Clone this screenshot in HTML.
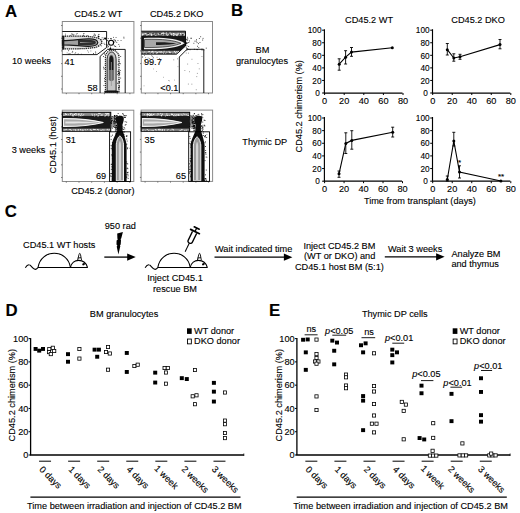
<!DOCTYPE html>
<html><head><meta charset="utf-8"><style>
html,body{margin:0;padding:0;background:#fff;}
svg{display:block;}
text{font-family:"Liberation Sans",sans-serif;fill:#000;stroke:#000;stroke-width:0.12px;}
</style></head><body>
<svg width="520" height="513" viewBox="0 0 520 513">
<rect width="520" height="513" fill="#fff"/>
<text x="5" y="16.5" font-size="16.8" text-anchor="start" font-weight="bold" >A</text>
<text x="231" y="16.3" font-size="16.8" text-anchor="start" font-weight="bold" >B</text>
<text x="4.8" y="217.3" font-size="16.8" text-anchor="start" font-weight="bold" >C</text>
<text x="5.5" y="316.4" font-size="16.8" text-anchor="start" font-weight="bold" >D</text>
<text x="269" y="316.4" font-size="16.8" text-anchor="start" font-weight="bold" >E</text>
<text x="98.3" y="16.5" font-size="9.2" text-anchor="middle" font-weight="normal" >CD45.2 WT</text>
<text x="176.7" y="16.5" font-size="9.2" text-anchor="middle" font-weight="normal" >CD45.2 DKO</text>
<text x="12" y="64" font-size="9.2" text-anchor="start" font-weight="normal" >10 weeks</text>
<text x="11.7" y="152.6" font-size="9.2" text-anchor="start" font-weight="normal" >3 weeks</text>
<text transform="translate(56,144.8) rotate(-90)" font-size="9.2" text-anchor="middle">CD45.1 (host)</text>
<text x="102.8" y="194" font-size="9.2" text-anchor="middle" font-weight="normal" >CD45.2 (donor)</text>
<rect x="62.3" y="21.5" width="71.60000000000001" height="71.5" fill="none" stroke="#8a8a8a" stroke-width="1"/>
<line x1="61.099999999999994" y1="25.5" x2="62.3" y2="25.5" stroke="#555" stroke-width="0.8" />
<line x1="66.3" y1="93" x2="66.3" y2="94.2" stroke="#555" stroke-width="0.8" />
<line x1="61.099999999999994" y1="38.2" x2="62.3" y2="38.2" stroke="#555" stroke-width="0.8" />
<line x1="79.02" y1="93" x2="79.02" y2="94.2" stroke="#555" stroke-width="0.8" />
<line x1="61.099999999999994" y1="50.9" x2="62.3" y2="50.9" stroke="#555" stroke-width="0.8" />
<line x1="91.74000000000001" y1="93" x2="91.74000000000001" y2="94.2" stroke="#555" stroke-width="0.8" />
<line x1="61.099999999999994" y1="63.6" x2="62.3" y2="63.6" stroke="#555" stroke-width="0.8" />
<line x1="104.46000000000001" y1="93" x2="104.46000000000001" y2="94.2" stroke="#555" stroke-width="0.8" />
<line x1="61.099999999999994" y1="76.3" x2="62.3" y2="76.3" stroke="#555" stroke-width="0.8" />
<line x1="117.18" y1="93" x2="117.18" y2="94.2" stroke="#555" stroke-width="0.8" />
<line x1="61.099999999999994" y1="89.0" x2="62.3" y2="89.0" stroke="#555" stroke-width="0.8" />
<line x1="129.9" y1="93" x2="129.9" y2="94.2" stroke="#555" stroke-width="0.8" />
<rect x="107.8" y="38.1" width="0.9" height="0.9" fill="#000" opacity="0.7"/>
<rect x="115.6" y="37.0" width="0.9" height="0.9" fill="#000" opacity="0.7"/>
<rect x="112.9" y="41.1" width="0.9" height="0.9" fill="#000" opacity="0.7"/>
<rect x="101.4" y="43.1" width="0.9" height="0.9" fill="#000" opacity="0.7"/>
<rect x="100.9" y="42.1" width="0.9" height="0.9" fill="#000" opacity="0.7"/>
<rect x="101.7" y="37.3" width="0.9" height="0.9" fill="#000" opacity="0.7"/>
<rect x="110.2" y="47.6" width="0.9" height="0.9" fill="#000" opacity="0.7"/>
<rect x="103.0" y="39.1" width="0.9" height="0.9" fill="#000" opacity="0.7"/>
<rect x="115.1" y="49.3" width="0.9" height="0.9" fill="#000" opacity="0.7"/>
<rect x="113.9" y="41.6" width="0.9" height="0.9" fill="#000" opacity="0.7"/>
<rect x="123.4" y="36.7" width="0.9" height="0.9" fill="#000" opacity="0.7"/>
<rect x="120.6" y="40.1" width="0.9" height="0.9" fill="#000" opacity="0.7"/>
<rect x="103.5" y="37.6" width="0.9" height="0.9" fill="#000" opacity="0.7"/>
<rect x="107.4" y="47.4" width="0.9" height="0.9" fill="#000" opacity="0.7"/>
<rect x="104.3" y="44.1" width="0.9" height="0.9" fill="#000" opacity="0.7"/>
<rect x="115.3" y="41.2" width="0.9" height="0.9" fill="#000" opacity="0.7"/>
<rect x="113.1" y="36.9" width="0.9" height="0.9" fill="#000" opacity="0.7"/>
<rect x="101.4" y="38.9" width="0.9" height="0.9" fill="#000" opacity="0.7"/>
<rect x="116.3" y="42.0" width="0.9" height="0.9" fill="#000" opacity="0.7"/>
<rect x="107.5" y="44.2" width="0.9" height="0.9" fill="#000" opacity="0.7"/>
<rect x="110.9" y="40.2" width="0.9" height="0.9" fill="#000" opacity="0.7"/>
<rect x="119.1" y="45.8" width="0.9" height="0.9" fill="#000" opacity="0.7"/>
<rect x="105.9" y="44.0" width="0.9" height="0.9" fill="#000" opacity="0.7"/>
<rect x="112.6" y="48.3" width="0.9" height="0.9" fill="#000" opacity="0.7"/>
<rect x="117.5" y="40.0" width="0.9" height="0.9" fill="#000" opacity="0.7"/>
<rect x="123.5" y="37.7" width="0.9" height="0.9" fill="#000" opacity="0.7"/>
<rect x="110.0" y="46.6" width="0.9" height="0.9" fill="#000" opacity="0.7"/>
<rect x="103.6" y="42.8" width="0.9" height="0.9" fill="#000" opacity="0.7"/>
<rect x="100.9" y="45.4" width="0.9" height="0.9" fill="#000" opacity="0.7"/>
<rect x="118.3" y="44.0" width="0.9" height="0.9" fill="#000" opacity="0.7"/>
<rect x="118.8" y="62.5" width="0.9" height="0.9" fill="#000" opacity="0.8"/>
<rect x="115.5" y="73.8" width="0.9" height="0.9" fill="#000" opacity="0.8"/>
<rect x="113.4" y="68.2" width="0.9" height="0.9" fill="#000" opacity="0.8"/>
<rect x="118.1" y="87.8" width="0.9" height="0.9" fill="#000" opacity="0.8"/>
<rect x="111.5" y="76.6" width="0.9" height="0.9" fill="#000" opacity="0.8"/>
<rect x="104.1" y="78.1" width="0.9" height="0.9" fill="#000" opacity="0.8"/>
<rect x="114.6" y="89.7" width="0.9" height="0.9" fill="#000" opacity="0.8"/>
<rect x="117.8" y="61.4" width="0.9" height="0.9" fill="#000" opacity="0.8"/>
<rect x="109.9" y="76.7" width="0.9" height="0.9" fill="#000" opacity="0.8"/>
<rect x="103.4" y="68.5" width="0.9" height="0.9" fill="#000" opacity="0.8"/>
<rect x="106.0" y="54.7" width="0.9" height="0.9" fill="#000" opacity="0.8"/>
<rect x="104.1" y="80.7" width="0.9" height="0.9" fill="#000" opacity="0.8"/>
<rect x="105.3" y="59.9" width="0.9" height="0.9" fill="#000" opacity="0.8"/>
<rect x="110.0" y="84.9" width="0.9" height="0.9" fill="#000" opacity="0.8"/>
<rect x="104.5" y="68.0" width="0.9" height="0.9" fill="#000" opacity="0.8"/>
<rect x="112.9" y="85.3" width="0.9" height="0.9" fill="#000" opacity="0.8"/>
<rect x="117.7" y="84.6" width="0.9" height="0.9" fill="#000" opacity="0.8"/>
<rect x="108.0" y="66.6" width="0.9" height="0.9" fill="#000" opacity="0.8"/>
<rect x="109.5" y="85.4" width="0.9" height="0.9" fill="#000" opacity="0.8"/>
<rect x="120.2" y="56.0" width="0.9" height="0.9" fill="#000" opacity="0.8"/>
<rect x="106.2" y="59.3" width="0.9" height="0.9" fill="#000" opacity="0.8"/>
<rect x="107.2" y="69.4" width="0.9" height="0.9" fill="#000" opacity="0.8"/>
<rect x="113.6" y="60.5" width="0.9" height="0.9" fill="#000" opacity="0.8"/>
<rect x="103.1" y="66.8" width="0.9" height="0.9" fill="#000" opacity="0.8"/>
<rect x="109.6" y="72.7" width="0.9" height="0.9" fill="#000" opacity="0.8"/>
<rect x="120.2" y="77.6" width="0.9" height="0.9" fill="#000" opacity="0.8"/>
<rect x="112.3" y="74.7" width="0.9" height="0.9" fill="#000" opacity="0.8"/>
<rect x="115.2" y="52.2" width="0.9" height="0.9" fill="#000" opacity="0.8"/>
<rect x="119.2" y="81.2" width="0.9" height="0.9" fill="#000" opacity="0.8"/>
<rect x="118.7" y="81.9" width="0.9" height="0.9" fill="#000" opacity="0.8"/>
<rect x="110.1" y="66.0" width="0.9" height="0.9" fill="#000" opacity="0.8"/>
<rect x="104.9" y="75.4" width="0.9" height="0.9" fill="#000" opacity="0.8"/>
<rect x="104.1" y="52.7" width="0.9" height="0.9" fill="#000" opacity="0.8"/>
<rect x="106.8" y="56.5" width="0.9" height="0.9" fill="#000" opacity="0.8"/>
<rect x="109.1" y="52.1" width="0.9" height="0.9" fill="#000" opacity="0.8"/>
<rect x="103.0" y="56.1" width="0.9" height="0.9" fill="#000" opacity="0.8"/>
<rect x="104.8" y="64.5" width="0.9" height="0.9" fill="#000" opacity="0.8"/>
<rect x="103.5" y="85.0" width="0.9" height="0.9" fill="#000" opacity="0.8"/>
<rect x="114.1" y="55.9" width="0.9" height="0.9" fill="#000" opacity="0.8"/>
<rect x="107.5" y="63.9" width="0.9" height="0.9" fill="#000" opacity="0.8"/>
<rect x="109.6" y="54.9" width="0.9" height="0.9" fill="#000" opacity="0.8"/>
<rect x="118.3" y="89.7" width="0.9" height="0.9" fill="#000" opacity="0.8"/>
<rect x="111.4" y="69.4" width="0.9" height="0.9" fill="#000" opacity="0.8"/>
<rect x="104.5" y="54.1" width="0.9" height="0.9" fill="#000" opacity="0.8"/>
<rect x="109.2" y="60.6" width="0.9" height="0.9" fill="#000" opacity="0.8"/>
<path d="M62.5,36.3 C80,35.8 94,36.2 99,38.5 C101.5,39.8 102,41.5 101.8,42.5 C101.5,44 100,45.5 97,46.8 C92,48.6 80,49 62.5,48.8 Z" fill="#dedede" stroke="#2a2a2a" stroke-width="1.3" stroke-dasharray="1.4 0.7"/>
<path d="M62.5,40.7 C72,40.5 80,39.2 88,38.8 C94,38.6 97.6,40.2 97.8,42.5 C97.6,44.8 94,46.4 88,46.3 C80,46 72,44.9 62.5,44.8 Z" fill="#a0a0a0" stroke="#1a1a1a" stroke-width="1.2"/>
<path d="M78,40.1 C84,39.5 91,39.5 94.6,40.8 C96.3,41.5 96.3,43.5 94.6,44.2 C91,45.5 84,45.5 78,44.9 Z" fill="#2e2e2e"/>
<path d="M80,42.1 L94,42.5 L80,42.9 Z" fill="#999"/>
<rect x="93.8" y="33.4" width="0.9" height="0.9" fill="#000" opacity="0.6"/>
<rect x="64.8" y="35.4" width="0.9" height="0.9" fill="#000" opacity="0.6"/>
<rect x="83.0" y="33.4" width="0.9" height="0.9" fill="#000" opacity="0.6"/>
<rect x="83.6" y="33.1" width="0.9" height="0.9" fill="#000" opacity="0.6"/>
<rect x="83.0" y="35.4" width="0.9" height="0.9" fill="#000" opacity="0.6"/>
<rect x="95.1" y="34.7" width="0.9" height="0.9" fill="#000" opacity="0.6"/>
<rect x="73.4" y="33.9" width="0.9" height="0.9" fill="#000" opacity="0.6"/>
<rect x="70.0" y="34.9" width="0.9" height="0.9" fill="#000" opacity="0.6"/>
<rect x="83.2" y="34.9" width="0.9" height="0.9" fill="#000" opacity="0.6"/>
<rect x="75.9" y="33.6" width="0.9" height="0.9" fill="#000" opacity="0.6"/>
<rect x="93.2" y="35.5" width="0.9" height="0.9" fill="#000" opacity="0.6"/>
<rect x="94.7" y="35.0" width="0.9" height="0.9" fill="#000" opacity="0.6"/>
<rect x="93.5" y="34.8" width="0.9" height="0.9" fill="#000" opacity="0.6"/>
<rect x="72.2" y="34.3" width="0.9" height="0.9" fill="#000" opacity="0.6"/>
<rect x="76.8" y="33.1" width="0.9" height="0.9" fill="#000" opacity="0.6"/>
<rect x="65.0" y="33.7" width="0.9" height="0.9" fill="#000" opacity="0.6"/>
<rect x="73.3" y="34.7" width="0.9" height="0.9" fill="#000" opacity="0.6"/>
<rect x="98.4" y="34.1" width="0.9" height="0.9" fill="#000" opacity="0.6"/>
<rect x="97.7" y="35.5" width="0.9" height="0.9" fill="#000" opacity="0.6"/>
<rect x="98.4" y="33.9" width="0.9" height="0.9" fill="#000" opacity="0.6"/>
<rect x="71.9" y="33.6" width="0.9" height="0.9" fill="#000" opacity="0.6"/>
<rect x="71.1" y="33.5" width="0.9" height="0.9" fill="#000" opacity="0.6"/>
<rect x="86.5" y="35.3" width="0.9" height="0.9" fill="#000" opacity="0.6"/>
<rect x="94.3" y="34.2" width="0.9" height="0.9" fill="#000" opacity="0.6"/>
<rect x="87.5" y="35.0" width="0.9" height="0.9" fill="#000" opacity="0.6"/>
<rect x="66.7" y="52.5" width="0.9" height="0.9" fill="#000" opacity="0.5"/>
<rect x="93.1" y="53.0" width="0.9" height="0.9" fill="#000" opacity="0.5"/>
<rect x="88.0" y="51.7" width="0.9" height="0.9" fill="#000" opacity="0.5"/>
<rect x="69.7" y="53.1" width="0.9" height="0.9" fill="#000" opacity="0.5"/>
<rect x="74.6" y="53.1" width="0.9" height="0.9" fill="#000" opacity="0.5"/>
<rect x="95.1" y="51.3" width="0.9" height="0.9" fill="#000" opacity="0.5"/>
<rect x="76.8" y="53.8" width="0.9" height="0.9" fill="#000" opacity="0.5"/>
<rect x="87.2" y="50.3" width="0.9" height="0.9" fill="#000" opacity="0.5"/>
<rect x="68.1" y="50.3" width="0.9" height="0.9" fill="#000" opacity="0.5"/>
<rect x="93.0" y="53.1" width="0.9" height="0.9" fill="#000" opacity="0.5"/>
<rect x="68.7" y="53.2" width="0.9" height="0.9" fill="#000" opacity="0.5"/>
<rect x="95.4" y="52.5" width="0.9" height="0.9" fill="#000" opacity="0.5"/>
<rect x="75.2" y="52.0" width="0.9" height="0.9" fill="#000" opacity="0.5"/>
<rect x="68.2" y="49.7" width="0.9" height="0.9" fill="#000" opacity="0.5"/>
<rect x="95.1" y="52.5" width="0.9" height="0.9" fill="#000" opacity="0.5"/>
<rect x="80.9" y="53.7" width="0.9" height="0.9" fill="#000" opacity="0.5"/>
<rect x="77.9" y="53.4" width="0.9" height="0.9" fill="#000" opacity="0.5"/>
<rect x="90.4" y="50.5" width="0.9" height="0.9" fill="#000" opacity="0.5"/>
<rect x="72.1" y="50.9" width="0.9" height="0.9" fill="#000" opacity="0.5"/>
<rect x="71.7" y="52.2" width="0.9" height="0.9" fill="#000" opacity="0.5"/>
<rect x="72.3" y="51.4" width="0.9" height="0.9" fill="#000" opacity="0.5"/>
<rect x="68.2" y="53.6" width="0.9" height="0.9" fill="#000" opacity="0.5"/>
<rect x="62.3" y="36" width="2" height="13.5" fill="#1a1a1a"/>
<circle cx="98.6" cy="36.6" r="0.9" fill="#000"/>
<circle cx="105.2" cy="38.6" r="1.1" fill="#000"/>
<circle cx="110.4" cy="48.8" r="1" fill="#000"/>
<circle cx="111.1" cy="42.8" r="2.5" fill="#fff" stroke="#000" stroke-width="1.1"/>
<path d="M106.5,40 L108.6,41.2 M113.6,39.6 L116,40.6 M113.8,45.6 L116.2,46.8 M107,45.6 L109,46.6 M110,38.5 L112,38.8" stroke="#000" stroke-width="0.7"/>
<path d="M105.4,92 L105.4,58 C105.4,53 108.5,50.2 112.2,50.2 C115.9,50.2 119,53 119,58 L119,92 Z" fill="#f0f0f0" stroke="#222" stroke-width="1.1" stroke-dasharray="1.3 0.7"/>
<path d="M107.1,91 L107.1,60 C107.1,55 109.3,52 111.6,52 C113.9,52 116.1,55 116.1,60 L116.1,91 Z" fill="#c4c4c4" stroke="#111" stroke-width="0.9"/>
<path d="M108.8,80 L108.8,60 C108.8,56.5 110.1,54.8 111.3,54.8 C112.5,54.8 113.9,56.5 113.9,60 L113.9,80 C112.5,81.5 110.1,81.5 108.8,80 Z" fill="#6a6a6a"/>
<path d="M109.4,70 L109.4,60 C109.4,57.2 110.4,55.8 111.3,55.8 C112.2,55.8 113.3,57.2 113.3,60 L113.3,70 Z" fill="#161616"/>
<path d="M110.9,62 L111.7,62 L111.7,86 L110.9,86 Z" fill="#999"/>
<rect x="118.1" y="70.5" width="0.9" height="0.9" fill="#000" opacity="0.9"/>
<rect x="118.8" y="86.6" width="0.9" height="0.9" fill="#000" opacity="0.9"/>
<rect x="118.3" y="87.0" width="0.9" height="0.9" fill="#000" opacity="0.9"/>
<rect x="118.5" y="73.1" width="0.9" height="0.9" fill="#000" opacity="0.9"/>
<rect x="118.6" y="54.7" width="0.9" height="0.9" fill="#000" opacity="0.9"/>
<rect x="118.3" y="60.6" width="0.9" height="0.9" fill="#000" opacity="0.9"/>
<rect x="117.0" y="82.8" width="0.9" height="0.9" fill="#000" opacity="0.9"/>
<rect x="117.5" y="71.0" width="0.9" height="0.9" fill="#000" opacity="0.9"/>
<rect x="119.2" y="74.0" width="0.9" height="0.9" fill="#000" opacity="0.9"/>
<rect x="118.0" y="72.7" width="0.9" height="0.9" fill="#000" opacity="0.9"/>
<rect x="118.7" y="82.2" width="0.9" height="0.9" fill="#000" opacity="0.9"/>
<rect x="117.3" y="74.2" width="0.9" height="0.9" fill="#000" opacity="0.9"/>
<rect x="117.7" y="64.0" width="0.9" height="0.9" fill="#000" opacity="0.9"/>
<rect x="119.3" y="72.3" width="0.9" height="0.9" fill="#000" opacity="0.9"/>
<rect x="118.7" y="81.4" width="0.9" height="0.9" fill="#000" opacity="0.9"/>
<rect x="119.7" y="70.0" width="0.9" height="0.9" fill="#000" opacity="0.9"/>
<rect x="118.8" y="72.2" width="0.9" height="0.9" fill="#000" opacity="0.9"/>
<rect x="118.5" y="78.9" width="0.9" height="0.9" fill="#000" opacity="0.9"/>
<rect x="118.4" y="73.2" width="0.9" height="0.9" fill="#000" opacity="0.9"/>
<rect x="118.4" y="87.9" width="0.9" height="0.9" fill="#000" opacity="0.9"/>
<rect x="119.1" y="85.6" width="0.9" height="0.9" fill="#000" opacity="0.9"/>
<rect x="119.8" y="63.3" width="0.9" height="0.9" fill="#000" opacity="0.9"/>
<rect x="104.4" y="90.8" width="14" height="2" fill="#111"/>
<path d="M62.3,31.5 L106.6,31.5 L106.6,47.5 L97,54.6 L62.3,54.6" fill="none" stroke="#000" stroke-width="0.9"/>
<path d="M100.1,93 L100.1,56.4 L107.6,49.4 L125.2,49.4 L125.2,93" fill="none" stroke="#000" stroke-width="0.9"/>
<text x="64.4" y="65" font-size="9.2" text-anchor="start" font-weight="normal" >41</text>
<text x="87.5" y="90.8" font-size="9.2" text-anchor="start" font-weight="normal" >58</text>
<rect x="141.3" y="21.5" width="71.19999999999999" height="71.5" fill="none" stroke="#8a8a8a" stroke-width="1"/>
<line x1="140.10000000000002" y1="25.5" x2="141.3" y2="25.5" stroke="#555" stroke-width="0.8" />
<line x1="145.3" y1="93" x2="145.3" y2="94.2" stroke="#555" stroke-width="0.8" />
<line x1="140.10000000000002" y1="38.2" x2="141.3" y2="38.2" stroke="#555" stroke-width="0.8" />
<line x1="157.94" y1="93" x2="157.94" y2="94.2" stroke="#555" stroke-width="0.8" />
<line x1="140.10000000000002" y1="50.9" x2="141.3" y2="50.9" stroke="#555" stroke-width="0.8" />
<line x1="170.58" y1="93" x2="170.58" y2="94.2" stroke="#555" stroke-width="0.8" />
<line x1="140.10000000000002" y1="63.6" x2="141.3" y2="63.6" stroke="#555" stroke-width="0.8" />
<line x1="183.22" y1="93" x2="183.22" y2="94.2" stroke="#555" stroke-width="0.8" />
<line x1="140.10000000000002" y1="76.3" x2="141.3" y2="76.3" stroke="#555" stroke-width="0.8" />
<line x1="195.86" y1="93" x2="195.86" y2="94.2" stroke="#555" stroke-width="0.8" />
<line x1="140.10000000000002" y1="89.0" x2="141.3" y2="89.0" stroke="#555" stroke-width="0.8" />
<line x1="208.5" y1="93" x2="208.5" y2="94.2" stroke="#555" stroke-width="0.8" />
<rect x="196.7" y="49.2" width="0.9" height="0.9" fill="#000" opacity="0.8"/>
<rect x="202.6" y="37.9" width="0.9" height="0.9" fill="#000" opacity="0.8"/>
<rect x="187.6" y="42.2" width="0.9" height="0.9" fill="#000" opacity="0.8"/>
<rect x="186.5" y="39.4" width="0.9" height="0.9" fill="#000" opacity="0.8"/>
<rect x="186.5" y="45.4" width="0.9" height="0.9" fill="#000" opacity="0.8"/>
<rect x="201.5" y="48.6" width="0.9" height="0.9" fill="#000" opacity="0.8"/>
<rect x="188.2" y="46.0" width="0.9" height="0.9" fill="#000" opacity="0.8"/>
<rect x="198.9" y="38.0" width="0.9" height="0.9" fill="#000" opacity="0.8"/>
<rect x="203.5" y="49.5" width="0.9" height="0.9" fill="#000" opacity="0.8"/>
<rect x="189.6" y="49.3" width="0.9" height="0.9" fill="#000" opacity="0.8"/>
<rect x="193.4" y="42.8" width="0.9" height="0.9" fill="#000" opacity="0.8"/>
<rect x="205.8" y="47.7" width="0.9" height="0.9" fill="#000" opacity="0.8"/>
<rect x="188.4" y="42.0" width="0.9" height="0.9" fill="#000" opacity="0.8"/>
<rect x="195.8" y="40.7" width="0.9" height="0.9" fill="#000" opacity="0.8"/>
<rect x="189.1" y="40.5" width="0.9" height="0.9" fill="#000" opacity="0.8"/>
<rect x="200.2" y="36.3" width="0.9" height="0.9" fill="#000" opacity="0.8"/>
<rect x="196.6" y="42.2" width="0.9" height="0.9" fill="#000" opacity="0.8"/>
<rect x="185.4" y="40.6" width="0.9" height="0.9" fill="#000" opacity="0.8"/>
<rect x="198.1" y="43.2" width="0.9" height="0.9" fill="#000" opacity="0.8"/>
<rect x="186.4" y="49.8" width="0.9" height="0.9" fill="#000" opacity="0.8"/>
<rect x="201.6" y="49.6" width="0.9" height="0.9" fill="#000" opacity="0.8"/>
<rect x="187.2" y="39.7" width="0.9" height="0.9" fill="#000" opacity="0.8"/>
<rect x="185.8" y="46.9" width="0.9" height="0.9" fill="#000" opacity="0.8"/>
<rect x="190.7" y="37.8" width="0.9" height="0.9" fill="#000" opacity="0.8"/>
<rect x="193.9" y="48.8" width="0.9" height="0.9" fill="#000" opacity="0.8"/>
<rect x="202.2" y="39.6" width="0.9" height="0.9" fill="#000" opacity="0.8"/>
<rect x="188.1" y="48.9" width="0.9" height="0.9" fill="#000" opacity="0.8"/>
<rect x="197.0" y="45.8" width="0.9" height="0.9" fill="#000" opacity="0.8"/>
<rect x="186.9" y="36.8" width="0.9" height="0.9" fill="#000" opacity="0.8"/>
<rect x="199.5" y="42.0" width="0.9" height="0.9" fill="#000" opacity="0.8"/>
<rect x="186.5" y="49.1" width="0.9" height="0.9" fill="#000" opacity="0.8"/>
<rect x="198.3" y="47.2" width="0.9" height="0.9" fill="#000" opacity="0.8"/>
<rect x="186.8" y="48.0" width="0.9" height="0.9" fill="#000" opacity="0.8"/>
<rect x="186.4" y="48.1" width="0.9" height="0.9" fill="#000" opacity="0.8"/>
<rect x="194.5" y="40.7" width="0.9" height="0.9" fill="#000" opacity="0.8"/>
<rect x="196.6" y="49.0" width="0.9" height="0.9" fill="#000" opacity="0.8"/>
<rect x="190.6" y="37.8" width="0.9" height="0.9" fill="#000" opacity="0.8"/>
<rect x="196.1" y="39.3" width="0.9" height="0.9" fill="#000" opacity="0.8"/>
<rect x="187.3" y="38.3" width="0.9" height="0.9" fill="#000" opacity="0.8"/>
<rect x="186.1" y="38.8" width="0.9" height="0.9" fill="#000" opacity="0.8"/>
<rect x="187.2" y="63.6" width="0.9" height="0.9" fill="#000" opacity="0.45"/>
<rect x="197.5" y="63.0" width="0.9" height="0.9" fill="#000" opacity="0.45"/>
<rect x="191.5" y="58.8" width="0.9" height="0.9" fill="#000" opacity="0.45"/>
<rect x="188.0" y="52.7" width="0.9" height="0.9" fill="#000" opacity="0.45"/>
<rect x="185.8" y="52.6" width="0.9" height="0.9" fill="#000" opacity="0.45"/>
<rect x="196.9" y="72.9" width="0.9" height="0.9" fill="#000" opacity="0.45"/>
<rect x="184.4" y="70.0" width="0.9" height="0.9" fill="#000" opacity="0.45"/>
<rect x="201.5" y="56.0" width="0.9" height="0.9" fill="#000" opacity="0.45"/>
<rect x="198.8" y="68.4" width="0.9" height="0.9" fill="#000" opacity="0.45"/>
<rect x="191.4" y="83.7" width="0.9" height="0.9" fill="#000" opacity="0.45"/>
<rect x="189.0" y="71.3" width="0.9" height="0.9" fill="#000" opacity="0.45"/>
<rect x="195.8" y="89.3" width="0.9" height="0.9" fill="#000" opacity="0.45"/>
<rect x="187.9" y="83.6" width="0.9" height="0.9" fill="#000" opacity="0.45"/>
<rect x="196.3" y="76.2" width="0.9" height="0.9" fill="#000" opacity="0.45"/>
<rect x="156.6" y="56.8" width="0.9" height="0.9" fill="#000" opacity="0.5"/>
<rect x="144.0" y="55.0" width="0.9" height="0.9" fill="#000" opacity="0.5"/>
<rect x="144.5" y="59.9" width="0.9" height="0.9" fill="#000" opacity="0.5"/>
<rect x="151.2" y="55.3" width="0.9" height="0.9" fill="#000" opacity="0.5"/>
<rect x="145.0" y="60.7" width="0.9" height="0.9" fill="#000" opacity="0.5"/>
<rect x="173.3" y="59.4" width="0.9" height="0.9" fill="#000" opacity="0.5"/>
<rect x="152.1" y="55.9" width="0.9" height="0.9" fill="#000" opacity="0.5"/>
<rect x="152.6" y="57.7" width="0.9" height="0.9" fill="#000" opacity="0.5"/>
<rect x="147.7" y="57.6" width="0.9" height="0.9" fill="#000" opacity="0.5"/>
<rect x="151.5" y="61.7" width="0.9" height="0.9" fill="#000" opacity="0.5"/>
<rect x="177.0" y="58.4" width="0.9" height="0.9" fill="#000" opacity="0.5"/>
<rect x="150.8" y="61.7" width="0.9" height="0.9" fill="#000" opacity="0.5"/>
<rect x="153.1" y="56.9" width="0.9" height="0.9" fill="#000" opacity="0.5"/>
<rect x="142.0" y="57.1" width="0.9" height="0.9" fill="#000" opacity="0.5"/>
<rect x="159.1" y="58.0" width="0.9" height="0.9" fill="#000" opacity="0.5"/>
<rect x="149.2" y="58.0" width="0.9" height="0.9" fill="#000" opacity="0.5"/>
<rect x="142.2" y="56.1" width="0.9" height="0.9" fill="#000" opacity="0.5"/>
<rect x="145.2" y="57.2" width="0.9" height="0.9" fill="#000" opacity="0.5"/>
<rect x="143.5" y="62.6" width="0.9" height="0.9" fill="#000" opacity="0.35"/>
<rect x="153.0" y="68.5" width="0.9" height="0.9" fill="#000" opacity="0.35"/>
<rect x="163.1" y="76.8" width="0.9" height="0.9" fill="#000" opacity="0.35"/>
<rect x="169.0" y="80.4" width="0.9" height="0.9" fill="#000" opacity="0.35"/>
<rect x="167.8" y="86.6" width="0.9" height="0.9" fill="#000" opacity="0.35"/>
<rect x="156.0" y="71.1" width="0.9" height="0.9" fill="#000" opacity="0.35"/>
<rect x="177.5" y="66.2" width="0.9" height="0.9" fill="#000" opacity="0.35"/>
<rect x="168.1" y="80.0" width="0.9" height="0.9" fill="#000" opacity="0.35"/>
<rect x="143.6" y="85.4" width="0.9" height="0.9" fill="#000" opacity="0.35"/>
<rect x="174.1" y="79.6" width="0.9" height="0.9" fill="#000" opacity="0.35"/>
<path d="M141.5,31.4 L185.5,31.4 L185.5,46 L176.5,54 L141.5,54 Z" fill="#161616"/>
<rect x="141.5" y="32.5" width="43.5" height="3" fill="#9a9a9a"/>
<path d="M141.5,50.8 L180.2,50.8 L177.5,53.5 L141.5,53.5 Z" fill="#8a8a8a"/>
<rect x="173.2" y="34.8" width="0.9" height="0.9" fill="#fff" opacity="0.9"/>
<rect x="147.9" y="34.0" width="0.9" height="0.9" fill="#fff" opacity="0.9"/>
<rect x="163.4" y="34.8" width="0.9" height="0.9" fill="#fff" opacity="0.9"/>
<rect x="176.2" y="34.8" width="0.9" height="0.9" fill="#fff" opacity="0.9"/>
<rect x="166.8" y="35.0" width="0.9" height="0.9" fill="#fff" opacity="0.9"/>
<rect x="171.0" y="34.4" width="0.9" height="0.9" fill="#fff" opacity="0.9"/>
<rect x="151.8" y="32.6" width="0.9" height="0.9" fill="#fff" opacity="0.9"/>
<rect x="147.7" y="33.5" width="0.9" height="0.9" fill="#fff" opacity="0.9"/>
<rect x="146.5" y="34.8" width="0.9" height="0.9" fill="#fff" opacity="0.9"/>
<rect x="165.7" y="34.3" width="0.9" height="0.9" fill="#fff" opacity="0.9"/>
<rect x="168.6" y="34.4" width="0.9" height="0.9" fill="#fff" opacity="0.9"/>
<rect x="162.8" y="32.5" width="0.9" height="0.9" fill="#fff" opacity="0.9"/>
<rect x="175.9" y="34.6" width="0.9" height="0.9" fill="#fff" opacity="0.9"/>
<rect x="163.4" y="34.0" width="0.9" height="0.9" fill="#fff" opacity="0.9"/>
<rect x="170.0" y="32.7" width="0.9" height="0.9" fill="#fff" opacity="0.9"/>
<rect x="173.3" y="33.2" width="0.9" height="0.9" fill="#fff" opacity="0.9"/>
<rect x="145.2" y="33.2" width="0.9" height="0.9" fill="#fff" opacity="0.9"/>
<rect x="173.0" y="33.1" width="0.9" height="0.9" fill="#fff" opacity="0.9"/>
<rect x="173.4" y="35.2" width="0.9" height="0.9" fill="#fff" opacity="0.9"/>
<rect x="163.0" y="33.6" width="0.9" height="0.9" fill="#fff" opacity="0.9"/>
<rect x="162.4" y="34.4" width="0.9" height="0.9" fill="#fff" opacity="0.9"/>
<rect x="174.6" y="34.2" width="0.9" height="0.9" fill="#fff" opacity="0.9"/>
<rect x="169.3" y="32.7" width="0.9" height="0.9" fill="#fff" opacity="0.9"/>
<rect x="148.3" y="33.2" width="0.9" height="0.9" fill="#fff" opacity="0.9"/>
<rect x="173.6" y="33.4" width="0.9" height="0.9" fill="#fff" opacity="0.9"/>
<rect x="166.1" y="32.5" width="0.9" height="0.9" fill="#fff" opacity="0.9"/>
<rect x="144.6" y="33.3" width="0.9" height="0.9" fill="#fff" opacity="0.9"/>
<rect x="170.6" y="34.4" width="0.9" height="0.9" fill="#fff" opacity="0.9"/>
<rect x="170.7" y="33.3" width="0.9" height="0.9" fill="#fff" opacity="0.9"/>
<rect x="164.0" y="33.8" width="0.9" height="0.9" fill="#fff" opacity="0.9"/>
<rect x="161.8" y="32.8" width="0.9" height="0.9" fill="#fff" opacity="0.9"/>
<rect x="180.0" y="33.1" width="0.9" height="0.9" fill="#fff" opacity="0.9"/>
<rect x="183.6" y="35.1" width="0.9" height="0.9" fill="#fff" opacity="0.9"/>
<rect x="142.7" y="33.8" width="0.9" height="0.9" fill="#fff" opacity="0.9"/>
<rect x="176.8" y="35.2" width="0.9" height="0.9" fill="#fff" opacity="0.9"/>
<rect x="161.1" y="33.3" width="0.9" height="0.9" fill="#fff" opacity="0.9"/>
<rect x="150.9" y="35.1" width="0.9" height="0.9" fill="#fff" opacity="0.9"/>
<rect x="151.0" y="34.1" width="0.9" height="0.9" fill="#fff" opacity="0.9"/>
<rect x="148.0" y="34.0" width="0.9" height="0.9" fill="#fff" opacity="0.9"/>
<rect x="182.5" y="32.9" width="0.9" height="0.9" fill="#fff" opacity="0.9"/>
<rect x="176.9" y="33.9" width="0.9" height="0.9" fill="#fff" opacity="0.9"/>
<rect x="179.7" y="34.5" width="0.9" height="0.9" fill="#fff" opacity="0.9"/>
<rect x="151.8" y="35.0" width="0.9" height="0.9" fill="#fff" opacity="0.9"/>
<rect x="162.7" y="32.6" width="0.9" height="0.9" fill="#fff" opacity="0.9"/>
<rect x="142.2" y="33.9" width="0.9" height="0.9" fill="#fff" opacity="0.9"/>
<rect x="161.2" y="33.3" width="0.9" height="0.9" fill="#fff" opacity="0.9"/>
<rect x="148.0" y="33.5" width="0.9" height="0.9" fill="#fff" opacity="0.9"/>
<rect x="155.4" y="34.9" width="0.9" height="0.9" fill="#fff" opacity="0.9"/>
<rect x="142.1" y="34.6" width="0.9" height="0.9" fill="#fff" opacity="0.9"/>
<rect x="177.7" y="32.8" width="0.9" height="0.9" fill="#fff" opacity="0.9"/>
<rect x="181.4" y="34.5" width="0.9" height="0.9" fill="#fff" opacity="0.9"/>
<rect x="180.3" y="33.3" width="0.9" height="0.9" fill="#fff" opacity="0.9"/>
<rect x="157.8" y="33.6" width="0.9" height="0.9" fill="#fff" opacity="0.9"/>
<rect x="184.4" y="34.1" width="0.9" height="0.9" fill="#fff" opacity="0.9"/>
<rect x="157.3" y="33.7" width="0.9" height="0.9" fill="#fff" opacity="0.9"/>
<rect x="152.2" y="50.9" width="0.9" height="0.9" fill="#fff" opacity="0.9"/>
<rect x="145.8" y="52.9" width="0.9" height="0.9" fill="#fff" opacity="0.9"/>
<rect x="152.6" y="53.1" width="0.9" height="0.9" fill="#fff" opacity="0.9"/>
<rect x="151.2" y="51.5" width="0.9" height="0.9" fill="#fff" opacity="0.9"/>
<rect x="160.9" y="51.3" width="0.9" height="0.9" fill="#fff" opacity="0.9"/>
<rect x="155.8" y="53.2" width="0.9" height="0.9" fill="#fff" opacity="0.9"/>
<rect x="174.7" y="52.8" width="0.9" height="0.9" fill="#fff" opacity="0.9"/>
<rect x="165.3" y="53.1" width="0.9" height="0.9" fill="#fff" opacity="0.9"/>
<rect x="176.8" y="52.2" width="0.9" height="0.9" fill="#fff" opacity="0.9"/>
<rect x="168.6" y="50.9" width="0.9" height="0.9" fill="#fff" opacity="0.9"/>
<rect x="169.1" y="51.9" width="0.9" height="0.9" fill="#fff" opacity="0.9"/>
<rect x="169.8" y="52.4" width="0.9" height="0.9" fill="#fff" opacity="0.9"/>
<rect x="152.6" y="50.9" width="0.9" height="0.9" fill="#fff" opacity="0.9"/>
<rect x="176.3" y="51.1" width="0.9" height="0.9" fill="#fff" opacity="0.9"/>
<rect x="159.5" y="51.7" width="0.9" height="0.9" fill="#fff" opacity="0.9"/>
<rect x="153.0" y="52.6" width="0.9" height="0.9" fill="#fff" opacity="0.9"/>
<rect x="178.1" y="51.5" width="0.9" height="0.9" fill="#fff" opacity="0.9"/>
<rect x="166.3" y="51.6" width="0.9" height="0.9" fill="#fff" opacity="0.9"/>
<rect x="162.6" y="51.8" width="0.9" height="0.9" fill="#fff" opacity="0.9"/>
<rect x="148.2" y="51.2" width="0.9" height="0.9" fill="#fff" opacity="0.9"/>
<rect x="149.7" y="53.1" width="0.9" height="0.9" fill="#fff" opacity="0.9"/>
<rect x="160.4" y="51.4" width="0.9" height="0.9" fill="#fff" opacity="0.9"/>
<rect x="175.5" y="53.3" width="0.9" height="0.9" fill="#fff" opacity="0.9"/>
<rect x="158.6" y="51.1" width="0.9" height="0.9" fill="#fff" opacity="0.9"/>
<rect x="149.1" y="51.0" width="0.9" height="0.9" fill="#fff" opacity="0.9"/>
<rect x="154.7" y="51.0" width="0.9" height="0.9" fill="#fff" opacity="0.9"/>
<rect x="150.8" y="51.4" width="0.9" height="0.9" fill="#fff" opacity="0.9"/>
<rect x="163.1" y="53.0" width="0.9" height="0.9" fill="#fff" opacity="0.9"/>
<rect x="169.7" y="51.8" width="0.9" height="0.9" fill="#fff" opacity="0.9"/>
<rect x="157.3" y="52.1" width="0.9" height="0.9" fill="#fff" opacity="0.9"/>
<rect x="155.9" y="51.6" width="0.9" height="0.9" fill="#fff" opacity="0.9"/>
<rect x="144.3" y="51.5" width="0.9" height="0.9" fill="#fff" opacity="0.9"/>
<rect x="177.8" y="51.1" width="0.9" height="0.9" fill="#fff" opacity="0.9"/>
<rect x="160.6" y="52.4" width="0.9" height="0.9" fill="#fff" opacity="0.9"/>
<rect x="173.9" y="51.3" width="0.9" height="0.9" fill="#fff" opacity="0.9"/>
<rect x="152.0" y="51.4" width="0.9" height="0.9" fill="#fff" opacity="0.9"/>
<rect x="156.8" y="51.9" width="0.9" height="0.9" fill="#fff" opacity="0.9"/>
<rect x="177.3" y="52.9" width="0.9" height="0.9" fill="#fff" opacity="0.9"/>
<rect x="174.3" y="50.9" width="0.9" height="0.9" fill="#fff" opacity="0.9"/>
<rect x="143.2" y="52.6" width="0.9" height="0.9" fill="#fff" opacity="0.9"/>
<rect x="175.1" y="52.0" width="0.9" height="0.9" fill="#fff" opacity="0.9"/>
<rect x="163.7" y="50.8" width="0.9" height="0.9" fill="#fff" opacity="0.9"/>
<rect x="156.5" y="53.1" width="0.9" height="0.9" fill="#fff" opacity="0.9"/>
<rect x="172.5" y="52.9" width="0.9" height="0.9" fill="#fff" opacity="0.9"/>
<rect x="178.0" y="51.4" width="0.9" height="0.9" fill="#fff" opacity="0.9"/>
<rect x="147.5" y="33.0" width="0.9" height="0.9" fill="#000" opacity="0.9"/>
<rect x="164.4" y="34.4" width="0.9" height="0.9" fill="#000" opacity="0.9"/>
<rect x="181.6" y="34.5" width="0.9" height="0.9" fill="#000" opacity="0.9"/>
<rect x="169.5" y="34.6" width="0.9" height="0.9" fill="#000" opacity="0.9"/>
<rect x="161.8" y="34.0" width="0.9" height="0.9" fill="#000" opacity="0.9"/>
<rect x="144.6" y="34.6" width="0.9" height="0.9" fill="#000" opacity="0.9"/>
<rect x="152.5" y="35.0" width="0.9" height="0.9" fill="#000" opacity="0.9"/>
<rect x="169.5" y="33.4" width="0.9" height="0.9" fill="#000" opacity="0.9"/>
<rect x="148.2" y="33.3" width="0.9" height="0.9" fill="#000" opacity="0.9"/>
<rect x="169.1" y="34.4" width="0.9" height="0.9" fill="#000" opacity="0.9"/>
<rect x="147.6" y="32.8" width="0.9" height="0.9" fill="#000" opacity="0.9"/>
<rect x="164.5" y="34.1" width="0.9" height="0.9" fill="#000" opacity="0.9"/>
<rect x="158.9" y="33.2" width="0.9" height="0.9" fill="#000" opacity="0.9"/>
<rect x="167.6" y="32.6" width="0.9" height="0.9" fill="#000" opacity="0.9"/>
<rect x="155.4" y="33.8" width="0.9" height="0.9" fill="#000" opacity="0.9"/>
<rect x="182.3" y="34.3" width="0.9" height="0.9" fill="#000" opacity="0.9"/>
<rect x="179.2" y="33.8" width="0.9" height="0.9" fill="#000" opacity="0.9"/>
<rect x="152.6" y="33.2" width="0.9" height="0.9" fill="#000" opacity="0.9"/>
<rect x="182.4" y="34.4" width="0.9" height="0.9" fill="#000" opacity="0.9"/>
<rect x="155.6" y="32.7" width="0.9" height="0.9" fill="#000" opacity="0.9"/>
<rect x="163.4" y="34.4" width="0.9" height="0.9" fill="#000" opacity="0.9"/>
<rect x="160.2" y="33.3" width="0.9" height="0.9" fill="#000" opacity="0.9"/>
<rect x="170.4" y="35.0" width="0.9" height="0.9" fill="#000" opacity="0.9"/>
<rect x="152.3" y="32.7" width="0.9" height="0.9" fill="#000" opacity="0.9"/>
<rect x="156.9" y="33.7" width="0.9" height="0.9" fill="#000" opacity="0.9"/>
<path d="M143.5,37.9 C165,37.3 178,38.6 184.6,43.2 C178,47.8 165,49.5 143.5,49.2 Z" fill="#f0f0f0"/>
<path d="M144.5,39.4 C163,38.9 174,40.3 181,43.3 C174,46.3 163,47.7 144.5,47.5 Z" fill="#a8a8a8" stroke="#222" stroke-width="0.7"/>
<path d="M156,42.2 C165,42 172,42.6 176.5,43.6 C172,44.5 165,45.1 156,44.9 Z" fill="#1e1e1e"/>
<rect x="141.5" y="36" width="2.4" height="14" fill="#111"/>
<path d="M185,41.5 L188,43 L185,45.5 Z" fill="#222"/>
<path d="M141.3,31.2 L185.5,31.2 L185.5,46 L176.5,54.2 L141.3,54.2" fill="none" stroke="#000" stroke-width="0.9"/>
<path d="M179.3,93 L179.3,57 L187,49.3 L203.8,49.3 L203.8,93" fill="none" stroke="#000" stroke-width="0.9"/>
<text x="143.9" y="65.4" font-size="9.2" text-anchor="start" font-weight="normal" >99.7</text>
<text x="160.3" y="91" font-size="9.2" text-anchor="start" font-weight="normal" >&lt;0.1</text>
<rect x="62.3" y="110.2" width="71.50000000000001" height="71.3" fill="none" stroke="#8a8a8a" stroke-width="1"/>
<line x1="61.099999999999994" y1="114.2" x2="62.3" y2="114.2" stroke="#555" stroke-width="0.8" />
<line x1="66.3" y1="181.5" x2="66.3" y2="182.7" stroke="#555" stroke-width="0.8" />
<line x1="61.099999999999994" y1="126.86" x2="62.3" y2="126.86" stroke="#555" stroke-width="0.8" />
<line x1="79.0" y1="181.5" x2="79.0" y2="182.7" stroke="#555" stroke-width="0.8" />
<line x1="61.099999999999994" y1="139.52" x2="62.3" y2="139.52" stroke="#555" stroke-width="0.8" />
<line x1="91.7" y1="181.5" x2="91.7" y2="182.7" stroke="#555" stroke-width="0.8" />
<line x1="61.099999999999994" y1="152.18" x2="62.3" y2="152.18" stroke="#555" stroke-width="0.8" />
<line x1="104.4" y1="181.5" x2="104.4" y2="182.7" stroke="#555" stroke-width="0.8" />
<line x1="61.099999999999994" y1="164.84" x2="62.3" y2="164.84" stroke="#555" stroke-width="0.8" />
<line x1="117.10000000000001" y1="181.5" x2="117.10000000000001" y2="182.7" stroke="#555" stroke-width="0.8" />
<line x1="61.099999999999994" y1="177.5" x2="62.3" y2="177.5" stroke="#555" stroke-width="0.8" />
<line x1="129.8" y1="181.5" x2="129.8" y2="182.7" stroke="#555" stroke-width="0.8" />
<rect x="123.6" y="142.4" width="0.9" height="0.9" fill="#000" opacity="0.4"/>
<rect x="125.7" y="168.1" width="0.9" height="0.9" fill="#000" opacity="0.4"/>
<rect x="120.2" y="142.7" width="0.9" height="0.9" fill="#000" opacity="0.4"/>
<rect x="129.0" y="147.8" width="0.9" height="0.9" fill="#000" opacity="0.4"/>
<rect x="126.2" y="144.0" width="0.9" height="0.9" fill="#000" opacity="0.4"/>
<rect x="114.8" y="169.1" width="0.9" height="0.9" fill="#000" opacity="0.4"/>
<rect x="116.2" y="178.2" width="0.9" height="0.9" fill="#000" opacity="0.4"/>
<rect x="120.0" y="141.9" width="0.9" height="0.9" fill="#000" opacity="0.4"/>
<rect x="62.3" y="112.2" width="48.5" height="19.10000000000001" fill="#1a1a1a"/>
<rect x="62.599999999999994" y="112.7" width="47.9" height="3.2" fill="#8a8a8a"/>
<rect x="62.599999999999994" y="128.6" width="47.9" height="2.5" fill="#8a8a8a"/>
<rect x="73.7" y="114.0" width="0.9" height="0.9" fill="#fff" opacity="0.9"/>
<rect x="94.2" y="115.5" width="0.9" height="0.9" fill="#fff" opacity="0.9"/>
<rect x="70.1" y="113.9" width="0.9" height="0.9" fill="#fff" opacity="0.9"/>
<rect x="73.2" y="115.5" width="0.9" height="0.9" fill="#fff" opacity="0.9"/>
<rect x="69.9" y="112.9" width="0.9" height="0.9" fill="#fff" opacity="0.9"/>
<rect x="66.1" y="113.9" width="0.9" height="0.9" fill="#fff" opacity="0.9"/>
<rect x="105.1" y="115.3" width="0.9" height="0.9" fill="#fff" opacity="0.9"/>
<rect x="97.4" y="115.6" width="0.9" height="0.9" fill="#fff" opacity="0.9"/>
<rect x="106.6" y="113.7" width="0.9" height="0.9" fill="#fff" opacity="0.9"/>
<rect x="71.9" y="115.4" width="0.9" height="0.9" fill="#fff" opacity="0.9"/>
<rect x="98.0" y="112.9" width="0.9" height="0.9" fill="#fff" opacity="0.9"/>
<rect x="94.2" y="113.9" width="0.9" height="0.9" fill="#fff" opacity="0.9"/>
<rect x="80.7" y="113.7" width="0.9" height="0.9" fill="#fff" opacity="0.9"/>
<rect x="71.2" y="112.8" width="0.9" height="0.9" fill="#fff" opacity="0.9"/>
<rect x="76.3" y="113.8" width="0.9" height="0.9" fill="#fff" opacity="0.9"/>
<rect x="107.7" y="113.1" width="0.9" height="0.9" fill="#fff" opacity="0.9"/>
<rect x="108.1" y="113.4" width="0.9" height="0.9" fill="#fff" opacity="0.9"/>
<rect x="79.9" y="115.1" width="0.9" height="0.9" fill="#fff" opacity="0.9"/>
<rect x="101.5" y="114.0" width="0.9" height="0.9" fill="#fff" opacity="0.9"/>
<rect x="65.6" y="114.1" width="0.9" height="0.9" fill="#fff" opacity="0.9"/>
<rect x="80.6" y="115.4" width="0.9" height="0.9" fill="#fff" opacity="0.9"/>
<rect x="72.3" y="113.8" width="0.9" height="0.9" fill="#fff" opacity="0.9"/>
<rect x="105.0" y="112.9" width="0.9" height="0.9" fill="#fff" opacity="0.9"/>
<rect x="82.4" y="115.1" width="0.9" height="0.9" fill="#fff" opacity="0.9"/>
<rect x="99.0" y="112.9" width="0.9" height="0.9" fill="#fff" opacity="0.9"/>
<rect x="64.9" y="113.0" width="0.9" height="0.9" fill="#fff" opacity="0.9"/>
<rect x="106.1" y="113.5" width="0.9" height="0.9" fill="#fff" opacity="0.9"/>
<rect x="98.0" y="115.3" width="0.9" height="0.9" fill="#fff" opacity="0.9"/>
<rect x="79.1" y="113.6" width="0.9" height="0.9" fill="#fff" opacity="0.9"/>
<rect x="107.8" y="114.5" width="0.9" height="0.9" fill="#fff" opacity="0.9"/>
<rect x="75.5" y="114.8" width="0.9" height="0.9" fill="#fff" opacity="0.9"/>
<rect x="78.0" y="113.6" width="0.9" height="0.9" fill="#fff" opacity="0.9"/>
<rect x="63.5" y="114.9" width="0.9" height="0.9" fill="#fff" opacity="0.9"/>
<rect x="105.9" y="114.6" width="0.9" height="0.9" fill="#fff" opacity="0.9"/>
<rect x="107.2" y="112.9" width="0.9" height="0.9" fill="#fff" opacity="0.9"/>
<rect x="74.2" y="114.1" width="0.9" height="0.9" fill="#fff" opacity="0.9"/>
<rect x="107.8" y="115.5" width="0.9" height="0.9" fill="#fff" opacity="0.9"/>
<rect x="81.3" y="113.5" width="0.9" height="0.9" fill="#fff" opacity="0.9"/>
<rect x="83.3" y="114.2" width="0.9" height="0.9" fill="#fff" opacity="0.9"/>
<rect x="106.5" y="113.3" width="0.9" height="0.9" fill="#fff" opacity="0.9"/>
<rect x="100.6" y="114.9" width="0.9" height="0.9" fill="#fff" opacity="0.9"/>
<rect x="101.6" y="115.0" width="0.9" height="0.9" fill="#fff" opacity="0.9"/>
<rect x="91.5" y="113.7" width="0.9" height="0.9" fill="#fff" opacity="0.9"/>
<rect x="78.2" y="113.8" width="0.9" height="0.9" fill="#fff" opacity="0.9"/>
<rect x="99.7" y="113.0" width="0.9" height="0.9" fill="#fff" opacity="0.9"/>
<rect x="72.5" y="114.9" width="0.9" height="0.9" fill="#fff" opacity="0.9"/>
<rect x="74.8" y="113.0" width="0.9" height="0.9" fill="#fff" opacity="0.9"/>
<rect x="64.9" y="114.3" width="0.9" height="0.9" fill="#fff" opacity="0.9"/>
<rect x="78.4" y="115.5" width="0.9" height="0.9" fill="#fff" opacity="0.9"/>
<rect x="104.4" y="115.6" width="0.9" height="0.9" fill="#fff" opacity="0.9"/>
<rect x="75.6" y="113.0" width="0.9" height="0.9" fill="#fff" opacity="0.9"/>
<rect x="67.8" y="114.2" width="0.9" height="0.9" fill="#fff" opacity="0.9"/>
<rect x="96.3" y="114.1" width="0.9" height="0.9" fill="#fff" opacity="0.9"/>
<rect x="74.2" y="114.0" width="0.9" height="0.9" fill="#fff" opacity="0.9"/>
<rect x="92.1" y="114.7" width="0.9" height="0.9" fill="#fff" opacity="0.9"/>
<rect x="98.1" y="130.5" width="0.9" height="0.9" fill="#fff" opacity="0.9"/>
<rect x="94.2" y="129.0" width="0.9" height="0.9" fill="#fff" opacity="0.9"/>
<rect x="102.4" y="129.3" width="0.9" height="0.9" fill="#fff" opacity="0.9"/>
<rect x="89.7" y="129.5" width="0.9" height="0.9" fill="#fff" opacity="0.9"/>
<rect x="97.6" y="129.1" width="0.9" height="0.9" fill="#fff" opacity="0.9"/>
<rect x="74.8" y="129.2" width="0.9" height="0.9" fill="#fff" opacity="0.9"/>
<rect x="70.4" y="130.6" width="0.9" height="0.9" fill="#fff" opacity="0.9"/>
<rect x="90.2" y="129.4" width="0.9" height="0.9" fill="#fff" opacity="0.9"/>
<rect x="81.7" y="130.8" width="0.9" height="0.9" fill="#fff" opacity="0.9"/>
<rect x="86.9" y="129.2" width="0.9" height="0.9" fill="#fff" opacity="0.9"/>
<rect x="100.9" y="130.1" width="0.9" height="0.9" fill="#fff" opacity="0.9"/>
<rect x="109.4" y="128.9" width="0.9" height="0.9" fill="#fff" opacity="0.9"/>
<rect x="85.4" y="130.4" width="0.9" height="0.9" fill="#fff" opacity="0.9"/>
<rect x="102.4" y="130.6" width="0.9" height="0.9" fill="#fff" opacity="0.9"/>
<rect x="65.2" y="129.3" width="0.9" height="0.9" fill="#fff" opacity="0.9"/>
<rect x="68.8" y="129.1" width="0.9" height="0.9" fill="#fff" opacity="0.9"/>
<rect x="108.5" y="129.9" width="0.9" height="0.9" fill="#fff" opacity="0.9"/>
<rect x="106.6" y="129.5" width="0.9" height="0.9" fill="#fff" opacity="0.9"/>
<rect x="103.6" y="129.6" width="0.9" height="0.9" fill="#fff" opacity="0.9"/>
<rect x="75.4" y="130.3" width="0.9" height="0.9" fill="#fff" opacity="0.9"/>
<rect x="107.3" y="128.9" width="0.9" height="0.9" fill="#fff" opacity="0.9"/>
<rect x="91.0" y="130.0" width="0.9" height="0.9" fill="#fff" opacity="0.9"/>
<rect x="73.4" y="129.5" width="0.9" height="0.9" fill="#fff" opacity="0.9"/>
<rect x="69.9" y="129.1" width="0.9" height="0.9" fill="#fff" opacity="0.9"/>
<rect x="75.2" y="130.0" width="0.9" height="0.9" fill="#fff" opacity="0.9"/>
<rect x="93.6" y="129.1" width="0.9" height="0.9" fill="#fff" opacity="0.9"/>
<rect x="63.8" y="129.4" width="0.9" height="0.9" fill="#fff" opacity="0.9"/>
<rect x="94.8" y="129.1" width="0.9" height="0.9" fill="#fff" opacity="0.9"/>
<rect x="77.8" y="129.1" width="0.9" height="0.9" fill="#fff" opacity="0.9"/>
<rect x="100.3" y="129.9" width="0.9" height="0.9" fill="#fff" opacity="0.9"/>
<rect x="66.2" y="128.9" width="0.9" height="0.9" fill="#fff" opacity="0.9"/>
<rect x="81.7" y="129.9" width="0.9" height="0.9" fill="#fff" opacity="0.9"/>
<rect x="93.0" y="128.9" width="0.9" height="0.9" fill="#fff" opacity="0.9"/>
<rect x="70.9" y="130.2" width="0.9" height="0.9" fill="#fff" opacity="0.9"/>
<rect x="82.4" y="129.3" width="0.9" height="0.9" fill="#fff" opacity="0.9"/>
<rect x="77.6" y="130.7" width="0.9" height="0.9" fill="#fff" opacity="0.9"/>
<rect x="77.8" y="129.9" width="0.9" height="0.9" fill="#fff" opacity="0.9"/>
<rect x="79.9" y="129.6" width="0.9" height="0.9" fill="#fff" opacity="0.9"/>
<rect x="103.5" y="130.8" width="0.9" height="0.9" fill="#fff" opacity="0.9"/>
<rect x="80.2" y="129.1" width="0.9" height="0.9" fill="#fff" opacity="0.9"/>
<rect x="97.2" y="129.1" width="0.9" height="0.9" fill="#fff" opacity="0.9"/>
<rect x="63.6" y="130.6" width="0.9" height="0.9" fill="#fff" opacity="0.9"/>
<rect x="83.0" y="130.4" width="0.9" height="0.9" fill="#fff" opacity="0.9"/>
<rect x="82.2" y="130.6" width="0.9" height="0.9" fill="#fff" opacity="0.9"/>
<rect x="84.7" y="129.0" width="0.9" height="0.9" fill="#fff" opacity="0.9"/>
<path d="M63.5,118.6 C82.3,118.4 91.4,119.8 103.4,122.5 C91.4,125.2 82.3,126.6 63.5,126.4 Z" fill="#a8a8a8" stroke="#f4f4f4" stroke-width="1.1"/>
<path d="M65.3,121.6 C82.3,121.5 89.4,122 98.4,122.5 C89.4,123 82.3,123.5 65.3,123.4 Z" fill="#e4e4e4"/>
<path d="M110.3,116 L116.8,116.5 L116.8,127 L110.3,128 Z" fill="#9a9a9a"/>
<rect x="110.4" y="121.9" width="0.9" height="0.9" fill="#000" opacity="0.95"/>
<rect x="115.1" y="126.8" width="0.9" height="0.9" fill="#000" opacity="0.95"/>
<rect x="111.0" y="122.9" width="0.9" height="0.9" fill="#000" opacity="0.95"/>
<rect x="113.1" y="121.3" width="0.9" height="0.9" fill="#000" opacity="0.95"/>
<rect x="111.4" y="118.3" width="0.9" height="0.9" fill="#000" opacity="0.95"/>
<rect x="114.2" y="127.0" width="0.9" height="0.9" fill="#000" opacity="0.95"/>
<rect x="111.1" y="121.1" width="0.9" height="0.9" fill="#000" opacity="0.95"/>
<rect x="116.3" y="127.6" width="0.9" height="0.9" fill="#000" opacity="0.95"/>
<rect x="111.8" y="116.2" width="0.9" height="0.9" fill="#000" opacity="0.95"/>
<rect x="117.4" y="127.7" width="0.9" height="0.9" fill="#000" opacity="0.95"/>
<rect x="113.9" y="115.2" width="0.9" height="0.9" fill="#000" opacity="0.95"/>
<rect x="117.2" y="119.7" width="0.9" height="0.9" fill="#000" opacity="0.95"/>
<rect x="117.1" y="122.9" width="0.9" height="0.9" fill="#000" opacity="0.95"/>
<rect x="116.5" y="116.7" width="0.9" height="0.9" fill="#000" opacity="0.95"/>
<rect x="116.2" y="117.5" width="0.9" height="0.9" fill="#000" opacity="0.95"/>
<rect x="113.3" y="125.9" width="0.9" height="0.9" fill="#000" opacity="0.95"/>
<rect x="116.5" y="117.0" width="0.9" height="0.9" fill="#000" opacity="0.95"/>
<rect x="111.9" y="119.9" width="0.9" height="0.9" fill="#000" opacity="0.95"/>
<rect x="114.2" y="119.7" width="0.9" height="0.9" fill="#000" opacity="0.95"/>
<rect x="111.2" y="117.8" width="0.9" height="0.9" fill="#000" opacity="0.95"/>
<rect x="115.7" y="126.6" width="0.9" height="0.9" fill="#000" opacity="0.95"/>
<rect x="110.6" y="122.1" width="0.9" height="0.9" fill="#000" opacity="0.95"/>
<rect x="116.0" y="115.0" width="0.9" height="0.9" fill="#000" opacity="0.95"/>
<rect x="116.6" y="116.1" width="0.9" height="0.9" fill="#000" opacity="0.95"/>
<rect x="114.8" y="121.9" width="0.9" height="0.9" fill="#000" opacity="0.95"/>
<rect x="115.0" y="118.6" width="0.9" height="0.9" fill="#000" opacity="0.95"/>
<rect x="113.5" y="122.4" width="0.9" height="0.9" fill="#000" opacity="0.95"/>
<rect x="113.5" y="123.4" width="0.9" height="0.9" fill="#000" opacity="0.95"/>
<rect x="113.7" y="120.4" width="0.9" height="0.9" fill="#000" opacity="0.95"/>
<rect x="110.5" y="122.9" width="0.9" height="0.9" fill="#000" opacity="0.95"/>
<rect x="114.0" y="117.7" width="0.9" height="0.9" fill="#000" opacity="0.95"/>
<rect x="116.0" y="125.0" width="0.9" height="0.9" fill="#000" opacity="0.95"/>
<rect x="113.7" y="116.9" width="0.9" height="0.9" fill="#000" opacity="0.95"/>
<rect x="113.8" y="115.9" width="0.9" height="0.9" fill="#000" opacity="0.95"/>
<rect x="111.3" y="120.3" width="0.9" height="0.9" fill="#000" opacity="0.95"/>
<rect x="111.0" y="120.5" width="0.9" height="0.9" fill="#000" opacity="0.95"/>
<rect x="114.1" y="115.1" width="0.9" height="0.9" fill="#000" opacity="0.95"/>
<rect x="115.1" y="115.6" width="0.9" height="0.9" fill="#000" opacity="0.95"/>
<rect x="115.8" y="125.0" width="0.9" height="0.9" fill="#000" opacity="0.95"/>
<rect x="114.1" y="115.2" width="0.9" height="0.9" fill="#000" opacity="0.95"/>
<rect x="114.1" y="119.6" width="0.9" height="0.9" fill="#000" opacity="0.95"/>
<rect x="117.4" y="116.3" width="0.9" height="0.9" fill="#000" opacity="0.95"/>
<rect x="116.7" y="127.9" width="0.9" height="0.9" fill="#000" opacity="0.95"/>
<rect x="115.8" y="125.5" width="0.9" height="0.9" fill="#000" opacity="0.95"/>
<rect x="111.8" y="127.8" width="0.9" height="0.9" fill="#000" opacity="0.95"/>
<rect x="119.9" y="127.3" width="0.9" height="0.9" fill="#000" opacity="0.9"/>
<rect x="125.3" y="115.5" width="0.9" height="0.9" fill="#000" opacity="0.9"/>
<rect x="123.7" y="127.0" width="0.9" height="0.9" fill="#000" opacity="0.9"/>
<rect x="114.6" y="118.3" width="0.9" height="0.9" fill="#000" opacity="0.9"/>
<rect x="123.3" y="115.4" width="0.9" height="0.9" fill="#000" opacity="0.9"/>
<rect x="125.0" y="117.1" width="0.9" height="0.9" fill="#000" opacity="0.9"/>
<rect x="124.0" y="115.2" width="0.9" height="0.9" fill="#000" opacity="0.9"/>
<rect x="120.1" y="126.8" width="0.9" height="0.9" fill="#000" opacity="0.9"/>
<rect x="116.4" y="116.9" width="0.9" height="0.9" fill="#000" opacity="0.9"/>
<rect x="120.1" y="117.8" width="0.9" height="0.9" fill="#000" opacity="0.9"/>
<rect x="114.3" y="115.7" width="0.9" height="0.9" fill="#000" opacity="0.9"/>
<rect x="115.8" y="127.0" width="0.9" height="0.9" fill="#000" opacity="0.9"/>
<rect x="122.3" y="126.4" width="0.9" height="0.9" fill="#000" opacity="0.9"/>
<rect x="115.9" y="124.8" width="0.9" height="0.9" fill="#000" opacity="0.9"/>
<rect x="115.2" y="121.0" width="0.9" height="0.9" fill="#000" opacity="0.9"/>
<rect x="121.8" y="118.4" width="0.9" height="0.9" fill="#000" opacity="0.9"/>
<rect x="124.7" y="121.3" width="0.9" height="0.9" fill="#000" opacity="0.9"/>
<rect x="121.1" y="126.2" width="0.9" height="0.9" fill="#000" opacity="0.9"/>
<rect x="115.1" y="127.9" width="0.9" height="0.9" fill="#000" opacity="0.9"/>
<rect x="121.7" y="118.9" width="0.9" height="0.9" fill="#000" opacity="0.9"/>
<rect x="123.8" y="117.0" width="0.9" height="0.9" fill="#000" opacity="0.9"/>
<rect x="126.2" y="121.7" width="0.9" height="0.9" fill="#000" opacity="0.9"/>
<rect x="118.3" y="124.5" width="0.9" height="0.9" fill="#000" opacity="0.9"/>
<rect x="119.3" y="115.7" width="0.9" height="0.9" fill="#000" opacity="0.9"/>
<rect x="123.1" y="113.7" width="0.9" height="0.9" fill="#000" opacity="0.9"/>
<rect x="124.0" y="116.8" width="0.9" height="0.9" fill="#000" opacity="0.9"/>
<rect x="121.8" y="127.8" width="0.9" height="0.9" fill="#000" opacity="0.9"/>
<rect x="121.1" y="123.0" width="0.9" height="0.9" fill="#000" opacity="0.9"/>
<rect x="117.7" y="113.0" width="0.9" height="0.9" fill="#000" opacity="0.9"/>
<rect x="114.2" y="115.2" width="0.9" height="0.9" fill="#000" opacity="0.9"/>
<rect x="121.5" y="119.5" width="0.9" height="0.9" fill="#000" opacity="0.9"/>
<rect x="120.2" y="126.4" width="0.9" height="0.9" fill="#000" opacity="0.9"/>
<rect x="115.5" y="116.4" width="0.9" height="0.9" fill="#000" opacity="0.9"/>
<rect x="122.0" y="113.3" width="0.9" height="0.9" fill="#000" opacity="0.9"/>
<rect x="113.8" y="118.3" width="0.9" height="0.9" fill="#000" opacity="0.9"/>
<rect x="115.1" y="118.4" width="0.9" height="0.9" fill="#000" opacity="0.9"/>
<rect x="116.6" y="121.8" width="0.9" height="0.9" fill="#000" opacity="0.9"/>
<rect x="121.2" y="116.1" width="0.9" height="0.9" fill="#000" opacity="0.9"/>
<rect x="121.6" y="120.1" width="0.9" height="0.9" fill="#000" opacity="0.9"/>
<rect x="115.5" y="127.0" width="0.9" height="0.9" fill="#000" opacity="0.9"/>
<rect x="116.8" y="115.2" width="0.9" height="0.9" fill="#000" opacity="0.9"/>
<rect x="115.0" y="122.6" width="0.9" height="0.9" fill="#000" opacity="0.9"/>
<rect x="124.7" y="124.7" width="0.9" height="0.9" fill="#000" opacity="0.9"/>
<rect x="118.8" y="117.0" width="0.9" height="0.9" fill="#000" opacity="0.9"/>
<rect x="113.9" y="122.7" width="0.9" height="0.9" fill="#000" opacity="0.9"/>
<rect x="120.8" y="118.3" width="0.9" height="0.9" fill="#000" opacity="0.9"/>
<rect x="121.9" y="119.7" width="0.9" height="0.9" fill="#000" opacity="0.9"/>
<rect x="125.5" y="124.0" width="0.9" height="0.9" fill="#000" opacity="0.9"/>
<rect x="116.9" y="126.6" width="0.9" height="0.9" fill="#000" opacity="0.9"/>
<rect x="114.4" y="121.0" width="0.9" height="0.9" fill="#000" opacity="0.9"/>
<rect x="118.9" y="116.6" width="0.9" height="0.9" fill="#000" opacity="0.9"/>
<rect x="114.5" y="124.7" width="0.9" height="0.9" fill="#000" opacity="0.9"/>
<rect x="114.0" y="121.3" width="0.9" height="0.9" fill="#000" opacity="0.9"/>
<rect x="125.6" y="115.1" width="0.9" height="0.9" fill="#000" opacity="0.9"/>
<rect x="116.3" y="122.1" width="0.9" height="0.9" fill="#000" opacity="0.9"/>
<path d="M116.3,117.5 C117.8,115.3 121.8,115.1 123.39999999999999,116.8 C124.39999999999999,119 123.39999999999999,122 122.5,124.5 L122.5,130.5 C123.39999999999999,134 125.6,138 126.6,145 L126.6,181.2 L111.8,181.2 L111.8,145 C112.8,138 116.2,134 117.1,130.5 L117.1,124.5 C116.2,122 115.2,119.5 116.3,117.5 Z" fill="#0e0e0e"/>
<rect x="111.3" y="163.8" width="0.9" height="0.9" fill="#000" opacity="0.9"/>
<rect x="111.9" y="142.1" width="0.9" height="0.9" fill="#000" opacity="0.9"/>
<rect x="110.8" y="148.0" width="0.9" height="0.9" fill="#000" opacity="0.9"/>
<rect x="110.3" y="175.4" width="0.9" height="0.9" fill="#000" opacity="0.9"/>
<rect x="111.8" y="167.3" width="0.9" height="0.9" fill="#000" opacity="0.9"/>
<rect x="110.2" y="173.3" width="0.9" height="0.9" fill="#000" opacity="0.9"/>
<rect x="111.8" y="155.6" width="0.9" height="0.9" fill="#000" opacity="0.9"/>
<rect x="111.8" y="155.0" width="0.9" height="0.9" fill="#000" opacity="0.9"/>
<rect x="110.7" y="138.9" width="0.9" height="0.9" fill="#000" opacity="0.9"/>
<rect x="110.7" y="135.8" width="0.9" height="0.9" fill="#000" opacity="0.9"/>
<rect x="110.9" y="168.9" width="0.9" height="0.9" fill="#000" opacity="0.9"/>
<rect x="111.7" y="173.3" width="0.9" height="0.9" fill="#000" opacity="0.9"/>
<rect x="111.7" y="146.4" width="0.9" height="0.9" fill="#000" opacity="0.9"/>
<rect x="111.4" y="154.3" width="0.9" height="0.9" fill="#000" opacity="0.9"/>
<rect x="111.9" y="158.3" width="0.9" height="0.9" fill="#000" opacity="0.9"/>
<rect x="110.8" y="163.9" width="0.9" height="0.9" fill="#000" opacity="0.9"/>
<rect x="112.2" y="144.1" width="0.9" height="0.9" fill="#000" opacity="0.9"/>
<rect x="112.0" y="134.7" width="0.9" height="0.9" fill="#000" opacity="0.9"/>
<rect x="110.7" y="145.0" width="0.9" height="0.9" fill="#000" opacity="0.9"/>
<rect x="111.8" y="177.9" width="0.9" height="0.9" fill="#000" opacity="0.9"/>
<rect x="111.8" y="149.2" width="0.9" height="0.9" fill="#000" opacity="0.9"/>
<rect x="112.0" y="149.3" width="0.9" height="0.9" fill="#000" opacity="0.9"/>
<rect x="110.7" y="176.2" width="0.9" height="0.9" fill="#000" opacity="0.9"/>
<rect x="111.5" y="166.2" width="0.9" height="0.9" fill="#000" opacity="0.9"/>
<rect x="111.6" y="179.5" width="0.9" height="0.9" fill="#000" opacity="0.9"/>
<rect x="111.2" y="173.0" width="0.9" height="0.9" fill="#000" opacity="0.9"/>
<rect x="127.4" y="173.9" width="0.9" height="0.9" fill="#000" opacity="0.9"/>
<rect x="126.9" y="167.7" width="0.9" height="0.9" fill="#000" opacity="0.9"/>
<rect x="127.1" y="148.3" width="0.9" height="0.9" fill="#000" opacity="0.9"/>
<rect x="126.5" y="163.0" width="0.9" height="0.9" fill="#000" opacity="0.9"/>
<rect x="126.2" y="176.4" width="0.9" height="0.9" fill="#000" opacity="0.9"/>
<rect x="126.4" y="135.3" width="0.9" height="0.9" fill="#000" opacity="0.9"/>
<rect x="126.3" y="177.2" width="0.9" height="0.9" fill="#000" opacity="0.9"/>
<rect x="126.7" y="140.6" width="0.9" height="0.9" fill="#000" opacity="0.9"/>
<rect x="126.2" y="135.9" width="0.9" height="0.9" fill="#000" opacity="0.9"/>
<rect x="127.3" y="163.5" width="0.9" height="0.9" fill="#000" opacity="0.9"/>
<rect x="127.4" y="168.3" width="0.9" height="0.9" fill="#000" opacity="0.9"/>
<rect x="126.2" y="161.5" width="0.9" height="0.9" fill="#000" opacity="0.9"/>
<rect x="126.8" y="172.0" width="0.9" height="0.9" fill="#000" opacity="0.9"/>
<rect x="127.6" y="175.4" width="0.9" height="0.9" fill="#000" opacity="0.9"/>
<rect x="126.2" y="174.4" width="0.9" height="0.9" fill="#000" opacity="0.9"/>
<rect x="127.7" y="177.9" width="0.9" height="0.9" fill="#000" opacity="0.9"/>
<rect x="126.3" y="143.6" width="0.9" height="0.9" fill="#000" opacity="0.9"/>
<rect x="126.3" y="135.6" width="0.9" height="0.9" fill="#000" opacity="0.9"/>
<rect x="127.6" y="171.8" width="0.9" height="0.9" fill="#000" opacity="0.9"/>
<rect x="127.2" y="172.4" width="0.9" height="0.9" fill="#000" opacity="0.9"/>
<rect x="127.2" y="147.4" width="0.9" height="0.9" fill="#000" opacity="0.9"/>
<rect x="126.3" y="138.6" width="0.9" height="0.9" fill="#000" opacity="0.9"/>
<rect x="116.7" y="128.8" width="0.9" height="0.9" fill="#000" opacity="0.9"/>
<rect x="115.6" y="130.8" width="0.9" height="0.9" fill="#000" opacity="0.9"/>
<rect x="114.9" y="129.3" width="0.9" height="0.9" fill="#000" opacity="0.9"/>
<rect x="115.5" y="133.4" width="0.9" height="0.9" fill="#000" opacity="0.9"/>
<rect x="115.7" y="129.9" width="0.9" height="0.9" fill="#000" opacity="0.9"/>
<rect x="117.2" y="131.5" width="0.9" height="0.9" fill="#000" opacity="0.9"/>
<rect x="116.9" y="132.6" width="0.9" height="0.9" fill="#000" opacity="0.9"/>
<rect x="114.9" y="130.7" width="0.9" height="0.9" fill="#000" opacity="0.9"/>
<rect x="115.9" y="134.0" width="0.9" height="0.9" fill="#000" opacity="0.9"/>
<rect x="115.7" y="133.3" width="0.9" height="0.9" fill="#000" opacity="0.9"/>
<rect x="116.1" y="128.9" width="0.9" height="0.9" fill="#000" opacity="0.9"/>
<rect x="117.0" y="127.8" width="0.9" height="0.9" fill="#000" opacity="0.9"/>
<rect x="124.3" y="128.5" width="0.9" height="0.9" fill="#000" opacity="0.9"/>
<rect x="122.3" y="128.8" width="0.9" height="0.9" fill="#000" opacity="0.9"/>
<rect x="124.2" y="135.8" width="0.9" height="0.9" fill="#000" opacity="0.9"/>
<rect x="122.3" y="131.4" width="0.9" height="0.9" fill="#000" opacity="0.9"/>
<rect x="123.5" y="134.2" width="0.9" height="0.9" fill="#000" opacity="0.9"/>
<rect x="122.8" y="131.5" width="0.9" height="0.9" fill="#000" opacity="0.9"/>
<rect x="123.2" y="134.5" width="0.9" height="0.9" fill="#000" opacity="0.9"/>
<rect x="123.0" y="135.5" width="0.9" height="0.9" fill="#000" opacity="0.9"/>
<rect x="123.0" y="128.9" width="0.9" height="0.9" fill="#000" opacity="0.9"/>
<rect x="124.0" y="131.5" width="0.9" height="0.9" fill="#000" opacity="0.9"/>
<rect x="122.6" y="132.7" width="0.9" height="0.9" fill="#000" opacity="0.9"/>
<rect x="122.5" y="134.1" width="0.9" height="0.9" fill="#000" opacity="0.9"/>
<path d="M116.3,181.0 L116.3,144.1 C116.7,140.1 118.7,136.1 119.9,136.1 C121.10000000000001,136.1 123.1,140.1 123.5,144.1 L123.5,181.0 Z" fill="#9a9a9a" stroke="#f0f0f0" stroke-width="1"/>
<path d="M118.80000000000001,180.0 L118.80000000000001,145.1 C119.0,142.6 119.60000000000001,141.1 119.9,141.1 C120.2,141.1 120.80000000000001,142.6 121.0,145.1 L121.0,180.0 Z" fill="#d4d4d4"/>
<rect x="62.3" y="112.2" width="48.5" height="19.10000000000001" fill="none" stroke="#000" stroke-width="0.9"/>
<rect x="109.6" y="131.8" width="21.0" height="49.69999999999999" fill="none" stroke="#000" stroke-width="0.9"/>
<text x="65.7" y="142.5" font-size="9.2" text-anchor="start" font-weight="normal" >31</text>
<text x="96" y="179" font-size="9.2" text-anchor="start" font-weight="normal" >69</text>
<rect x="141.1" y="110.1" width="71.5" height="71.30000000000001" fill="none" stroke="#8a8a8a" stroke-width="1"/>
<line x1="139.9" y1="114.1" x2="141.1" y2="114.1" stroke="#555" stroke-width="0.8" />
<line x1="145.1" y1="181.4" x2="145.1" y2="182.6" stroke="#555" stroke-width="0.8" />
<line x1="139.9" y1="126.75999999999999" x2="141.1" y2="126.75999999999999" stroke="#555" stroke-width="0.8" />
<line x1="157.79999999999998" y1="181.4" x2="157.79999999999998" y2="182.6" stroke="#555" stroke-width="0.8" />
<line x1="139.9" y1="139.42" x2="141.1" y2="139.42" stroke="#555" stroke-width="0.8" />
<line x1="170.5" y1="181.4" x2="170.5" y2="182.6" stroke="#555" stroke-width="0.8" />
<line x1="139.9" y1="152.07999999999998" x2="141.1" y2="152.07999999999998" stroke="#555" stroke-width="0.8" />
<line x1="183.2" y1="181.4" x2="183.2" y2="182.6" stroke="#555" stroke-width="0.8" />
<line x1="139.9" y1="164.74" x2="141.1" y2="164.74" stroke="#555" stroke-width="0.8" />
<line x1="195.89999999999998" y1="181.4" x2="195.89999999999998" y2="182.6" stroke="#555" stroke-width="0.8" />
<line x1="139.9" y1="177.4" x2="141.1" y2="177.4" stroke="#555" stroke-width="0.8" />
<line x1="208.6" y1="181.4" x2="208.6" y2="182.6" stroke="#555" stroke-width="0.8" />
<rect x="202.8" y="170.3" width="0.9" height="0.9" fill="#000" opacity="0.4"/>
<rect x="201.5" y="149.9" width="0.9" height="0.9" fill="#000" opacity="0.4"/>
<rect x="197.2" y="151.7" width="0.9" height="0.9" fill="#000" opacity="0.4"/>
<rect x="206.4" y="137.1" width="0.9" height="0.9" fill="#000" opacity="0.4"/>
<rect x="206.4" y="134.2" width="0.9" height="0.9" fill="#000" opacity="0.4"/>
<rect x="193.6" y="145.5" width="0.9" height="0.9" fill="#000" opacity="0.4"/>
<rect x="206.6" y="156.8" width="0.9" height="0.9" fill="#000" opacity="0.4"/>
<rect x="196.8" y="174.9" width="0.9" height="0.9" fill="#000" opacity="0.4"/>
<rect x="141.1" y="112.2" width="48.599999999999994" height="19.10000000000001" fill="#1a1a1a"/>
<rect x="141.4" y="112.7" width="47.99999999999999" height="3.2" fill="#8a8a8a"/>
<rect x="141.4" y="128.6" width="47.99999999999999" height="2.5" fill="#8a8a8a"/>
<rect x="153.0" y="114.1" width="0.9" height="0.9" fill="#fff" opacity="0.9"/>
<rect x="166.9" y="114.9" width="0.9" height="0.9" fill="#fff" opacity="0.9"/>
<rect x="177.2" y="114.6" width="0.9" height="0.9" fill="#fff" opacity="0.9"/>
<rect x="158.3" y="113.7" width="0.9" height="0.9" fill="#fff" opacity="0.9"/>
<rect x="149.3" y="115.2" width="0.9" height="0.9" fill="#fff" opacity="0.9"/>
<rect x="173.0" y="114.9" width="0.9" height="0.9" fill="#fff" opacity="0.9"/>
<rect x="150.0" y="114.0" width="0.9" height="0.9" fill="#fff" opacity="0.9"/>
<rect x="178.1" y="114.4" width="0.9" height="0.9" fill="#fff" opacity="0.9"/>
<rect x="148.0" y="114.1" width="0.9" height="0.9" fill="#fff" opacity="0.9"/>
<rect x="183.3" y="113.5" width="0.9" height="0.9" fill="#fff" opacity="0.9"/>
<rect x="151.0" y="113.6" width="0.9" height="0.9" fill="#fff" opacity="0.9"/>
<rect x="174.9" y="115.2" width="0.9" height="0.9" fill="#fff" opacity="0.9"/>
<rect x="149.3" y="113.2" width="0.9" height="0.9" fill="#fff" opacity="0.9"/>
<rect x="153.6" y="113.7" width="0.9" height="0.9" fill="#fff" opacity="0.9"/>
<rect x="166.4" y="113.3" width="0.9" height="0.9" fill="#fff" opacity="0.9"/>
<rect x="157.4" y="113.3" width="0.9" height="0.9" fill="#fff" opacity="0.9"/>
<rect x="187.5" y="114.8" width="0.9" height="0.9" fill="#fff" opacity="0.9"/>
<rect x="146.8" y="115.5" width="0.9" height="0.9" fill="#fff" opacity="0.9"/>
<rect x="146.8" y="113.9" width="0.9" height="0.9" fill="#fff" opacity="0.9"/>
<rect x="187.9" y="115.0" width="0.9" height="0.9" fill="#fff" opacity="0.9"/>
<rect x="176.3" y="114.0" width="0.9" height="0.9" fill="#fff" opacity="0.9"/>
<rect x="151.2" y="114.6" width="0.9" height="0.9" fill="#fff" opacity="0.9"/>
<rect x="147.1" y="113.4" width="0.9" height="0.9" fill="#fff" opacity="0.9"/>
<rect x="160.2" y="112.9" width="0.9" height="0.9" fill="#fff" opacity="0.9"/>
<rect x="160.7" y="115.0" width="0.9" height="0.9" fill="#fff" opacity="0.9"/>
<rect x="174.4" y="114.2" width="0.9" height="0.9" fill="#fff" opacity="0.9"/>
<rect x="171.6" y="114.1" width="0.9" height="0.9" fill="#fff" opacity="0.9"/>
<rect x="148.7" y="114.5" width="0.9" height="0.9" fill="#fff" opacity="0.9"/>
<rect x="161.0" y="114.9" width="0.9" height="0.9" fill="#fff" opacity="0.9"/>
<rect x="184.4" y="114.0" width="0.9" height="0.9" fill="#fff" opacity="0.9"/>
<rect x="168.8" y="114.9" width="0.9" height="0.9" fill="#fff" opacity="0.9"/>
<rect x="161.7" y="113.4" width="0.9" height="0.9" fill="#fff" opacity="0.9"/>
<rect x="175.8" y="115.3" width="0.9" height="0.9" fill="#fff" opacity="0.9"/>
<rect x="178.2" y="114.8" width="0.9" height="0.9" fill="#fff" opacity="0.9"/>
<rect x="181.8" y="114.7" width="0.9" height="0.9" fill="#fff" opacity="0.9"/>
<rect x="172.0" y="114.1" width="0.9" height="0.9" fill="#fff" opacity="0.9"/>
<rect x="156.7" y="114.6" width="0.9" height="0.9" fill="#fff" opacity="0.9"/>
<rect x="146.7" y="114.0" width="0.9" height="0.9" fill="#fff" opacity="0.9"/>
<rect x="178.6" y="114.8" width="0.9" height="0.9" fill="#fff" opacity="0.9"/>
<rect x="171.4" y="113.5" width="0.9" height="0.9" fill="#fff" opacity="0.9"/>
<rect x="161.8" y="114.1" width="0.9" height="0.9" fill="#fff" opacity="0.9"/>
<rect x="171.1" y="113.9" width="0.9" height="0.9" fill="#fff" opacity="0.9"/>
<rect x="173.6" y="115.4" width="0.9" height="0.9" fill="#fff" opacity="0.9"/>
<rect x="150.6" y="114.6" width="0.9" height="0.9" fill="#fff" opacity="0.9"/>
<rect x="178.4" y="113.9" width="0.9" height="0.9" fill="#fff" opacity="0.9"/>
<rect x="164.9" y="115.5" width="0.9" height="0.9" fill="#fff" opacity="0.9"/>
<rect x="143.9" y="114.3" width="0.9" height="0.9" fill="#fff" opacity="0.9"/>
<rect x="149.6" y="115.0" width="0.9" height="0.9" fill="#fff" opacity="0.9"/>
<rect x="185.9" y="114.3" width="0.9" height="0.9" fill="#fff" opacity="0.9"/>
<rect x="146.8" y="114.4" width="0.9" height="0.9" fill="#fff" opacity="0.9"/>
<rect x="167.3" y="114.8" width="0.9" height="0.9" fill="#fff" opacity="0.9"/>
<rect x="166.0" y="114.6" width="0.9" height="0.9" fill="#fff" opacity="0.9"/>
<rect x="180.7" y="114.3" width="0.9" height="0.9" fill="#fff" opacity="0.9"/>
<rect x="161.2" y="115.5" width="0.9" height="0.9" fill="#fff" opacity="0.9"/>
<rect x="151.9" y="114.7" width="0.9" height="0.9" fill="#fff" opacity="0.9"/>
<rect x="160.4" y="130.3" width="0.9" height="0.9" fill="#fff" opacity="0.9"/>
<rect x="147.8" y="130.8" width="0.9" height="0.9" fill="#fff" opacity="0.9"/>
<rect x="158.7" y="128.8" width="0.9" height="0.9" fill="#fff" opacity="0.9"/>
<rect x="154.9" y="129.5" width="0.9" height="0.9" fill="#fff" opacity="0.9"/>
<rect x="142.7" y="129.6" width="0.9" height="0.9" fill="#fff" opacity="0.9"/>
<rect x="161.7" y="130.2" width="0.9" height="0.9" fill="#fff" opacity="0.9"/>
<rect x="158.5" y="129.3" width="0.9" height="0.9" fill="#fff" opacity="0.9"/>
<rect x="152.6" y="130.3" width="0.9" height="0.9" fill="#fff" opacity="0.9"/>
<rect x="185.9" y="129.8" width="0.9" height="0.9" fill="#fff" opacity="0.9"/>
<rect x="152.3" y="130.4" width="0.9" height="0.9" fill="#fff" opacity="0.9"/>
<rect x="160.4" y="129.1" width="0.9" height="0.9" fill="#fff" opacity="0.9"/>
<rect x="148.1" y="130.3" width="0.9" height="0.9" fill="#fff" opacity="0.9"/>
<rect x="179.8" y="130.0" width="0.9" height="0.9" fill="#fff" opacity="0.9"/>
<rect x="164.0" y="129.9" width="0.9" height="0.9" fill="#fff" opacity="0.9"/>
<rect x="152.6" y="130.7" width="0.9" height="0.9" fill="#fff" opacity="0.9"/>
<rect x="158.6" y="130.0" width="0.9" height="0.9" fill="#fff" opacity="0.9"/>
<rect x="180.3" y="130.4" width="0.9" height="0.9" fill="#fff" opacity="0.9"/>
<rect x="163.9" y="129.3" width="0.9" height="0.9" fill="#fff" opacity="0.9"/>
<rect x="167.6" y="129.0" width="0.9" height="0.9" fill="#fff" opacity="0.9"/>
<rect x="181.0" y="129.4" width="0.9" height="0.9" fill="#fff" opacity="0.9"/>
<rect x="181.7" y="129.3" width="0.9" height="0.9" fill="#fff" opacity="0.9"/>
<rect x="159.6" y="129.2" width="0.9" height="0.9" fill="#fff" opacity="0.9"/>
<rect x="162.0" y="129.1" width="0.9" height="0.9" fill="#fff" opacity="0.9"/>
<rect x="142.2" y="130.2" width="0.9" height="0.9" fill="#fff" opacity="0.9"/>
<rect x="155.2" y="129.2" width="0.9" height="0.9" fill="#fff" opacity="0.9"/>
<rect x="156.2" y="129.7" width="0.9" height="0.9" fill="#fff" opacity="0.9"/>
<rect x="162.1" y="130.0" width="0.9" height="0.9" fill="#fff" opacity="0.9"/>
<rect x="172.8" y="129.5" width="0.9" height="0.9" fill="#fff" opacity="0.9"/>
<rect x="185.4" y="130.5" width="0.9" height="0.9" fill="#fff" opacity="0.9"/>
<rect x="144.8" y="130.4" width="0.9" height="0.9" fill="#fff" opacity="0.9"/>
<rect x="184.3" y="130.3" width="0.9" height="0.9" fill="#fff" opacity="0.9"/>
<rect x="148.6" y="130.4" width="0.9" height="0.9" fill="#fff" opacity="0.9"/>
<rect x="171.6" y="128.7" width="0.9" height="0.9" fill="#fff" opacity="0.9"/>
<rect x="142.6" y="130.7" width="0.9" height="0.9" fill="#fff" opacity="0.9"/>
<rect x="172.7" y="129.2" width="0.9" height="0.9" fill="#fff" opacity="0.9"/>
<rect x="146.8" y="129.0" width="0.9" height="0.9" fill="#fff" opacity="0.9"/>
<rect x="153.0" y="130.3" width="0.9" height="0.9" fill="#fff" opacity="0.9"/>
<rect x="158.2" y="129.0" width="0.9" height="0.9" fill="#fff" opacity="0.9"/>
<rect x="184.2" y="130.4" width="0.9" height="0.9" fill="#fff" opacity="0.9"/>
<rect x="149.9" y="130.6" width="0.9" height="0.9" fill="#fff" opacity="0.9"/>
<rect x="170.4" y="130.3" width="0.9" height="0.9" fill="#fff" opacity="0.9"/>
<rect x="173.3" y="130.6" width="0.9" height="0.9" fill="#fff" opacity="0.9"/>
<rect x="178.8" y="130.5" width="0.9" height="0.9" fill="#fff" opacity="0.9"/>
<rect x="151.3" y="130.2" width="0.9" height="0.9" fill="#fff" opacity="0.9"/>
<rect x="166.8" y="130.3" width="0.9" height="0.9" fill="#fff" opacity="0.9"/>
<path d="M142.29999999999998,118.6 C161.1,118.4 169.8,119.8 181.8,122.5 C169.8,125.2 161.1,126.6 142.29999999999998,126.4 Z" fill="#a8a8a8" stroke="#f4f4f4" stroke-width="1.1"/>
<path d="M144.1,121.6 C161.1,121.5 167.8,122 176.8,122.5 C167.8,123 161.1,123.5 144.1,123.4 Z" fill="#e4e4e4"/>
<path d="M189.2,116 L195.2,116.5 L195.2,127 L189.2,128 Z" fill="#9a9a9a"/>
<rect x="192.3" y="126.4" width="0.9" height="0.9" fill="#000" opacity="0.95"/>
<rect x="193.1" y="118.1" width="0.9" height="0.9" fill="#000" opacity="0.95"/>
<rect x="190.8" y="116.4" width="0.9" height="0.9" fill="#000" opacity="0.95"/>
<rect x="192.7" y="115.3" width="0.9" height="0.9" fill="#000" opacity="0.95"/>
<rect x="192.5" y="116.4" width="0.9" height="0.9" fill="#000" opacity="0.95"/>
<rect x="192.6" y="121.2" width="0.9" height="0.9" fill="#000" opacity="0.95"/>
<rect x="193.0" y="126.1" width="0.9" height="0.9" fill="#000" opacity="0.95"/>
<rect x="189.2" y="125.9" width="0.9" height="0.9" fill="#000" opacity="0.95"/>
<rect x="192.5" y="122.1" width="0.9" height="0.9" fill="#000" opacity="0.95"/>
<rect x="193.9" y="125.8" width="0.9" height="0.9" fill="#000" opacity="0.95"/>
<rect x="191.8" y="120.2" width="0.9" height="0.9" fill="#000" opacity="0.95"/>
<rect x="195.9" y="115.5" width="0.9" height="0.9" fill="#000" opacity="0.95"/>
<rect x="193.7" y="123.1" width="0.9" height="0.9" fill="#000" opacity="0.95"/>
<rect x="189.4" y="122.7" width="0.9" height="0.9" fill="#000" opacity="0.95"/>
<rect x="194.0" y="127.1" width="0.9" height="0.9" fill="#000" opacity="0.95"/>
<rect x="191.5" y="127.8" width="0.9" height="0.9" fill="#000" opacity="0.95"/>
<rect x="192.8" y="121.0" width="0.9" height="0.9" fill="#000" opacity="0.95"/>
<rect x="195.5" y="115.0" width="0.9" height="0.9" fill="#000" opacity="0.95"/>
<rect x="194.2" y="122.9" width="0.9" height="0.9" fill="#000" opacity="0.95"/>
<rect x="191.6" y="126.1" width="0.9" height="0.9" fill="#000" opacity="0.95"/>
<rect x="191.8" y="120.9" width="0.9" height="0.9" fill="#000" opacity="0.95"/>
<rect x="192.9" y="124.9" width="0.9" height="0.9" fill="#000" opacity="0.95"/>
<rect x="190.7" y="120.4" width="0.9" height="0.9" fill="#000" opacity="0.95"/>
<rect x="192.2" y="122.0" width="0.9" height="0.9" fill="#000" opacity="0.95"/>
<rect x="195.0" y="118.5" width="0.9" height="0.9" fill="#000" opacity="0.95"/>
<rect x="195.0" y="120.0" width="0.9" height="0.9" fill="#000" opacity="0.95"/>
<rect x="192.7" y="118.2" width="0.9" height="0.9" fill="#000" opacity="0.95"/>
<rect x="192.7" y="127.7" width="0.9" height="0.9" fill="#000" opacity="0.95"/>
<rect x="193.8" y="125.2" width="0.9" height="0.9" fill="#000" opacity="0.95"/>
<rect x="191.5" y="118.8" width="0.9" height="0.9" fill="#000" opacity="0.95"/>
<rect x="191.3" y="122.4" width="0.9" height="0.9" fill="#000" opacity="0.95"/>
<rect x="193.6" y="125.1" width="0.9" height="0.9" fill="#000" opacity="0.95"/>
<rect x="189.5" y="124.3" width="0.9" height="0.9" fill="#000" opacity="0.95"/>
<rect x="195.4" y="121.9" width="0.9" height="0.9" fill="#000" opacity="0.95"/>
<rect x="189.5" y="118.6" width="0.9" height="0.9" fill="#000" opacity="0.95"/>
<rect x="189.2" y="117.1" width="0.9" height="0.9" fill="#000" opacity="0.95"/>
<rect x="195.7" y="122.7" width="0.9" height="0.9" fill="#000" opacity="0.95"/>
<rect x="193.8" y="125.2" width="0.9" height="0.9" fill="#000" opacity="0.95"/>
<rect x="195.6" y="122.8" width="0.9" height="0.9" fill="#000" opacity="0.95"/>
<rect x="193.5" y="123.0" width="0.9" height="0.9" fill="#000" opacity="0.95"/>
<rect x="194.1" y="122.6" width="0.9" height="0.9" fill="#000" opacity="0.95"/>
<rect x="194.0" y="117.4" width="0.9" height="0.9" fill="#000" opacity="0.95"/>
<rect x="193.9" y="120.7" width="0.9" height="0.9" fill="#000" opacity="0.95"/>
<rect x="194.5" y="115.9" width="0.9" height="0.9" fill="#000" opacity="0.95"/>
<rect x="190.5" y="115.0" width="0.9" height="0.9" fill="#000" opacity="0.95"/>
<rect x="201.9" y="126.7" width="0.9" height="0.9" fill="#000" opacity="0.9"/>
<rect x="200.4" y="118.5" width="0.9" height="0.9" fill="#000" opacity="0.9"/>
<rect x="202.5" y="124.8" width="0.9" height="0.9" fill="#000" opacity="0.9"/>
<rect x="199.2" y="116.9" width="0.9" height="0.9" fill="#000" opacity="0.9"/>
<rect x="196.0" y="119.3" width="0.9" height="0.9" fill="#000" opacity="0.9"/>
<rect x="196.2" y="119.5" width="0.9" height="0.9" fill="#000" opacity="0.9"/>
<rect x="200.2" y="127.0" width="0.9" height="0.9" fill="#000" opacity="0.9"/>
<rect x="192.9" y="121.5" width="0.9" height="0.9" fill="#000" opacity="0.9"/>
<rect x="192.7" y="114.8" width="0.9" height="0.9" fill="#000" opacity="0.9"/>
<rect x="202.3" y="121.6" width="0.9" height="0.9" fill="#000" opacity="0.9"/>
<rect x="203.7" y="119.7" width="0.9" height="0.9" fill="#000" opacity="0.9"/>
<rect x="192.4" y="118.8" width="0.9" height="0.9" fill="#000" opacity="0.9"/>
<rect x="199.6" y="127.1" width="0.9" height="0.9" fill="#000" opacity="0.9"/>
<rect x="204.5" y="120.1" width="0.9" height="0.9" fill="#000" opacity="0.9"/>
<rect x="197.4" y="114.5" width="0.9" height="0.9" fill="#000" opacity="0.9"/>
<rect x="200.3" y="116.2" width="0.9" height="0.9" fill="#000" opacity="0.9"/>
<rect x="194.1" y="113.2" width="0.9" height="0.9" fill="#000" opacity="0.9"/>
<rect x="192.3" y="123.3" width="0.9" height="0.9" fill="#000" opacity="0.9"/>
<rect x="193.7" y="127.5" width="0.9" height="0.9" fill="#000" opacity="0.9"/>
<rect x="193.3" y="126.0" width="0.9" height="0.9" fill="#000" opacity="0.9"/>
<rect x="193.8" y="113.3" width="0.9" height="0.9" fill="#000" opacity="0.9"/>
<rect x="201.2" y="116.6" width="0.9" height="0.9" fill="#000" opacity="0.9"/>
<rect x="201.4" y="115.8" width="0.9" height="0.9" fill="#000" opacity="0.9"/>
<rect x="192.8" y="124.6" width="0.9" height="0.9" fill="#000" opacity="0.9"/>
<rect x="201.1" y="125.8" width="0.9" height="0.9" fill="#000" opacity="0.9"/>
<rect x="201.3" y="114.3" width="0.9" height="0.9" fill="#000" opacity="0.9"/>
<rect x="200.1" y="123.6" width="0.9" height="0.9" fill="#000" opacity="0.9"/>
<rect x="198.0" y="127.0" width="0.9" height="0.9" fill="#000" opacity="0.9"/>
<rect x="195.4" y="127.5" width="0.9" height="0.9" fill="#000" opacity="0.9"/>
<rect x="201.2" y="113.2" width="0.9" height="0.9" fill="#000" opacity="0.9"/>
<rect x="192.4" y="122.8" width="0.9" height="0.9" fill="#000" opacity="0.9"/>
<rect x="202.4" y="114.2" width="0.9" height="0.9" fill="#000" opacity="0.9"/>
<rect x="196.1" y="123.9" width="0.9" height="0.9" fill="#000" opacity="0.9"/>
<rect x="194.3" y="125.9" width="0.9" height="0.9" fill="#000" opacity="0.9"/>
<rect x="198.3" y="113.9" width="0.9" height="0.9" fill="#000" opacity="0.9"/>
<rect x="196.8" y="121.6" width="0.9" height="0.9" fill="#000" opacity="0.9"/>
<rect x="197.7" y="123.2" width="0.9" height="0.9" fill="#000" opacity="0.9"/>
<rect x="194.0" y="125.0" width="0.9" height="0.9" fill="#000" opacity="0.9"/>
<rect x="196.7" y="122.7" width="0.9" height="0.9" fill="#000" opacity="0.9"/>
<rect x="200.1" y="119.3" width="0.9" height="0.9" fill="#000" opacity="0.9"/>
<rect x="197.0" y="124.8" width="0.9" height="0.9" fill="#000" opacity="0.9"/>
<rect x="204.0" y="124.8" width="0.9" height="0.9" fill="#000" opacity="0.9"/>
<rect x="199.3" y="117.4" width="0.9" height="0.9" fill="#000" opacity="0.9"/>
<rect x="193.0" y="127.6" width="0.9" height="0.9" fill="#000" opacity="0.9"/>
<rect x="201.0" y="125.4" width="0.9" height="0.9" fill="#000" opacity="0.9"/>
<rect x="196.4" y="122.1" width="0.9" height="0.9" fill="#000" opacity="0.9"/>
<rect x="204.4" y="125.5" width="0.9" height="0.9" fill="#000" opacity="0.9"/>
<rect x="199.7" y="117.6" width="0.9" height="0.9" fill="#000" opacity="0.9"/>
<rect x="197.6" y="126.3" width="0.9" height="0.9" fill="#000" opacity="0.9"/>
<rect x="196.9" y="123.3" width="0.9" height="0.9" fill="#000" opacity="0.9"/>
<rect x="199.7" y="126.4" width="0.9" height="0.9" fill="#000" opacity="0.9"/>
<rect x="202.3" y="117.2" width="0.9" height="0.9" fill="#000" opacity="0.9"/>
<rect x="192.2" y="116.9" width="0.9" height="0.9" fill="#000" opacity="0.9"/>
<rect x="197.5" y="121.8" width="0.9" height="0.9" fill="#000" opacity="0.9"/>
<rect x="202.4" y="126.3" width="0.9" height="0.9" fill="#000" opacity="0.9"/>
<path d="M194.7,117.5 C196.2,115.3 200.2,115.1 201.79999999999998,116.8 C202.79999999999998,119 201.79999999999998,122 200.89999999999998,124.5 L200.89999999999998,130.5 C201.79999999999998,134 203.6,138 204.6,145 L204.6,181.1 L190.6,181.1 L190.6,145 C191.6,138 194.6,134 195.5,130.5 L195.5,124.5 C194.6,122 193.6,119.5 194.7,117.5 Z" fill="#0e0e0e"/>
<rect x="189.1" y="172.7" width="0.9" height="0.9" fill="#000" opacity="0.9"/>
<rect x="190.7" y="174.2" width="0.9" height="0.9" fill="#000" opacity="0.9"/>
<rect x="190.2" y="146.7" width="0.9" height="0.9" fill="#000" opacity="0.9"/>
<rect x="190.8" y="171.4" width="0.9" height="0.9" fill="#000" opacity="0.9"/>
<rect x="190.4" y="176.4" width="0.9" height="0.9" fill="#000" opacity="0.9"/>
<rect x="189.7" y="137.9" width="0.9" height="0.9" fill="#000" opacity="0.9"/>
<rect x="190.2" y="171.0" width="0.9" height="0.9" fill="#000" opacity="0.9"/>
<rect x="189.4" y="168.8" width="0.9" height="0.9" fill="#000" opacity="0.9"/>
<rect x="191.0" y="144.9" width="0.9" height="0.9" fill="#000" opacity="0.9"/>
<rect x="190.3" y="165.4" width="0.9" height="0.9" fill="#000" opacity="0.9"/>
<rect x="190.0" y="143.6" width="0.9" height="0.9" fill="#000" opacity="0.9"/>
<rect x="189.5" y="168.9" width="0.9" height="0.9" fill="#000" opacity="0.9"/>
<rect x="190.7" y="155.3" width="0.9" height="0.9" fill="#000" opacity="0.9"/>
<rect x="189.2" y="171.4" width="0.9" height="0.9" fill="#000" opacity="0.9"/>
<rect x="190.6" y="144.8" width="0.9" height="0.9" fill="#000" opacity="0.9"/>
<rect x="190.2" y="175.6" width="0.9" height="0.9" fill="#000" opacity="0.9"/>
<rect x="190.9" y="158.2" width="0.9" height="0.9" fill="#000" opacity="0.9"/>
<rect x="190.0" y="161.3" width="0.9" height="0.9" fill="#000" opacity="0.9"/>
<rect x="189.4" y="142.9" width="0.9" height="0.9" fill="#000" opacity="0.9"/>
<rect x="189.4" y="166.5" width="0.9" height="0.9" fill="#000" opacity="0.9"/>
<rect x="189.8" y="160.2" width="0.9" height="0.9" fill="#000" opacity="0.9"/>
<rect x="189.8" y="158.0" width="0.9" height="0.9" fill="#000" opacity="0.9"/>
<rect x="189.3" y="136.1" width="0.9" height="0.9" fill="#000" opacity="0.9"/>
<rect x="191.1" y="151.4" width="0.9" height="0.9" fill="#000" opacity="0.9"/>
<rect x="189.2" y="163.4" width="0.9" height="0.9" fill="#000" opacity="0.9"/>
<rect x="190.7" y="141.2" width="0.9" height="0.9" fill="#000" opacity="0.9"/>
<rect x="205.2" y="150.0" width="0.9" height="0.9" fill="#000" opacity="0.9"/>
<rect x="205.0" y="135.0" width="0.9" height="0.9" fill="#000" opacity="0.9"/>
<rect x="204.2" y="180.0" width="0.9" height="0.9" fill="#000" opacity="0.9"/>
<rect x="205.7" y="156.6" width="0.9" height="0.9" fill="#000" opacity="0.9"/>
<rect x="205.1" y="146.1" width="0.9" height="0.9" fill="#000" opacity="0.9"/>
<rect x="205.5" y="153.8" width="0.9" height="0.9" fill="#000" opacity="0.9"/>
<rect x="205.8" y="169.6" width="0.9" height="0.9" fill="#000" opacity="0.9"/>
<rect x="205.6" y="178.7" width="0.9" height="0.9" fill="#000" opacity="0.9"/>
<rect x="204.6" y="135.8" width="0.9" height="0.9" fill="#000" opacity="0.9"/>
<rect x="204.5" y="142.4" width="0.9" height="0.9" fill="#000" opacity="0.9"/>
<rect x="204.3" y="136.4" width="0.9" height="0.9" fill="#000" opacity="0.9"/>
<rect x="205.1" y="174.4" width="0.9" height="0.9" fill="#000" opacity="0.9"/>
<rect x="204.9" y="178.0" width="0.9" height="0.9" fill="#000" opacity="0.9"/>
<rect x="205.7" y="137.0" width="0.9" height="0.9" fill="#000" opacity="0.9"/>
<rect x="205.2" y="152.4" width="0.9" height="0.9" fill="#000" opacity="0.9"/>
<rect x="204.3" y="178.5" width="0.9" height="0.9" fill="#000" opacity="0.9"/>
<rect x="204.6" y="160.2" width="0.9" height="0.9" fill="#000" opacity="0.9"/>
<rect x="205.3" y="178.4" width="0.9" height="0.9" fill="#000" opacity="0.9"/>
<rect x="205.3" y="152.2" width="0.9" height="0.9" fill="#000" opacity="0.9"/>
<rect x="204.9" y="141.4" width="0.9" height="0.9" fill="#000" opacity="0.9"/>
<rect x="205.8" y="180.0" width="0.9" height="0.9" fill="#000" opacity="0.9"/>
<rect x="204.5" y="135.8" width="0.9" height="0.9" fill="#000" opacity="0.9"/>
<rect x="193.8" y="130.2" width="0.9" height="0.9" fill="#000" opacity="0.9"/>
<rect x="195.5" y="135.1" width="0.9" height="0.9" fill="#000" opacity="0.9"/>
<rect x="195.3" y="127.4" width="0.9" height="0.9" fill="#000" opacity="0.9"/>
<rect x="195.2" y="133.4" width="0.9" height="0.9" fill="#000" opacity="0.9"/>
<rect x="194.8" y="135.9" width="0.9" height="0.9" fill="#000" opacity="0.9"/>
<rect x="193.3" y="128.3" width="0.9" height="0.9" fill="#000" opacity="0.9"/>
<rect x="195.1" y="135.5" width="0.9" height="0.9" fill="#000" opacity="0.9"/>
<rect x="194.9" y="129.7" width="0.9" height="0.9" fill="#000" opacity="0.9"/>
<rect x="194.7" y="133.8" width="0.9" height="0.9" fill="#000" opacity="0.9"/>
<rect x="193.5" y="129.9" width="0.9" height="0.9" fill="#000" opacity="0.9"/>
<rect x="193.8" y="128.1" width="0.9" height="0.9" fill="#000" opacity="0.9"/>
<rect x="194.4" y="128.5" width="0.9" height="0.9" fill="#000" opacity="0.9"/>
<rect x="201.3" y="128.3" width="0.9" height="0.9" fill="#000" opacity="0.9"/>
<rect x="202.4" y="127.1" width="0.9" height="0.9" fill="#000" opacity="0.9"/>
<rect x="202.5" y="128.8" width="0.9" height="0.9" fill="#000" opacity="0.9"/>
<rect x="200.8" y="135.3" width="0.9" height="0.9" fill="#000" opacity="0.9"/>
<rect x="201.3" y="135.4" width="0.9" height="0.9" fill="#000" opacity="0.9"/>
<rect x="202.9" y="135.0" width="0.9" height="0.9" fill="#000" opacity="0.9"/>
<rect x="201.0" y="131.0" width="0.9" height="0.9" fill="#000" opacity="0.9"/>
<rect x="200.9" y="135.4" width="0.9" height="0.9" fill="#000" opacity="0.9"/>
<rect x="202.8" y="132.7" width="0.9" height="0.9" fill="#000" opacity="0.9"/>
<rect x="201.8" y="130.1" width="0.9" height="0.9" fill="#000" opacity="0.9"/>
<rect x="202.8" y="131.3" width="0.9" height="0.9" fill="#000" opacity="0.9"/>
<rect x="202.3" y="128.3" width="0.9" height="0.9" fill="#000" opacity="0.9"/>
<path d="M193.4,180.9 L193.4,145 C193.8,141 195.90000000000003,137 197.10000000000002,137 C198.3,137 200.4,141 200.8,145 L200.8,180.9 Z" fill="#9a9a9a" stroke="#f0f0f0" stroke-width="1"/>
<path d="M196.00000000000003,179.9 L196.00000000000003,146 C196.20000000000002,143.5 196.8,142 197.10000000000002,142 C197.40000000000003,142 198.00000000000003,143.5 198.20000000000002,146 L198.20000000000002,179.9 Z" fill="#d4d4d4"/>
<rect x="141.1" y="112.2" width="48.599999999999994" height="19.10000000000001" fill="none" stroke="#000" stroke-width="0.9"/>
<rect x="188.7" y="131.8" width="20.80000000000001" height="49.599999999999994" fill="none" stroke="#000" stroke-width="0.9"/>
<text x="144.6" y="142.5" font-size="9.2" text-anchor="start" font-weight="normal" >35</text>
<text x="175.8" y="179" font-size="9.2" text-anchor="start" font-weight="normal" >65</text>
<text x="262.5" y="52.8" font-size="9.2" text-anchor="middle" font-weight="normal" >BM</text>
<text x="262" y="63.5" font-size="9.2" text-anchor="middle" font-weight="normal" >granulocytes</text>
<text x="264.8" y="144.8" font-size="9.2" text-anchor="middle" font-weight="normal" >Thymic DP</text>
<text x="369" y="23" font-size="9.2" text-anchor="middle" font-weight="normal" >CD45.2 WT</text>
<text x="478.1" y="23" font-size="9.2" text-anchor="middle" font-weight="normal" >CD45.2 DKO</text>
<text transform="translate(302.3,106.3) rotate(-90)" font-size="9.2" text-anchor="middle">CD45.2 chimerism (%)</text>
<text x="419.9" y="204" font-size="9.2" text-anchor="middle" font-weight="normal" >Time from transplant (days)</text>
<line x1="324.40000000000003" y1="29.2" x2="324.40000000000003" y2="93" stroke="#000" stroke-width="1.15" />
<line x1="323.8" y1="93" x2="402.5" y2="93" stroke="#000" stroke-width="1.25" />
<line x1="322.1" y1="93.0" x2="324.1" y2="93.0" stroke="#000" stroke-width="1" />
<text x="319.8" y="96.2" font-size="9.2" text-anchor="end" textLength="4.6" lengthAdjust="spacingAndGlyphs">0</text>
<line x1="322.1" y1="80.44" x2="324.1" y2="80.44" stroke="#000" stroke-width="1" />
<text x="321.5" y="83.64" font-size="9.2" text-anchor="end" textLength="9.2" lengthAdjust="spacingAndGlyphs">20</text>
<line x1="322.1" y1="67.88" x2="324.1" y2="67.88" stroke="#000" stroke-width="1" />
<text x="321.5" y="71.08" font-size="9.2" text-anchor="end" textLength="9.2" lengthAdjust="spacingAndGlyphs">40</text>
<line x1="322.1" y1="55.32000000000001" x2="324.1" y2="55.32000000000001" stroke="#000" stroke-width="1" />
<text x="321.5" y="58.52000000000001" font-size="9.2" text-anchor="end" textLength="9.2" lengthAdjust="spacingAndGlyphs">60</text>
<line x1="322.1" y1="42.760000000000005" x2="324.1" y2="42.760000000000005" stroke="#000" stroke-width="1" />
<text x="321.5" y="45.96000000000001" font-size="9.2" text-anchor="end" textLength="9.2" lengthAdjust="spacingAndGlyphs">80</text>
<line x1="322.1" y1="30.200000000000003" x2="324.1" y2="30.200000000000003" stroke="#000" stroke-width="1" />
<text x="321.5" y="33.400000000000006" font-size="9.2" text-anchor="end" textLength="13.8" lengthAdjust="spacingAndGlyphs">100</text>
<line x1="324.6" y1="93" x2="324.6" y2="95" stroke="#000" stroke-width="1" />
<text x="324.6" y="104.2" font-size="9.2" text-anchor="middle" font-weight="normal" >0</text>
<line x1="344.20000000000005" y1="93" x2="344.20000000000005" y2="95" stroke="#000" stroke-width="1" />
<text x="344.20000000000005" y="104.2" font-size="9.2" text-anchor="middle" font-weight="normal" >20</text>
<line x1="363.8" y1="93" x2="363.8" y2="95" stroke="#000" stroke-width="1" />
<text x="363.8" y="104.2" font-size="9.2" text-anchor="middle" font-weight="normal" >40</text>
<line x1="383.4" y1="93" x2="383.4" y2="95" stroke="#000" stroke-width="1" />
<text x="383.4" y="104.2" font-size="9.2" text-anchor="middle" font-weight="normal" >60</text>
<line x1="403.0" y1="93" x2="403.0" y2="95" stroke="#000" stroke-width="1" />
<text x="403.0" y="104.2" font-size="9.2" text-anchor="middle" font-weight="normal" >80</text>
<path d="M339.2,64.2 L345.6,57.2 L351.5,52.1 L392.3,47.8" fill="none" stroke="#000" stroke-width="1.1"/>
<line x1="339.2" y1="58.8" x2="339.2" y2="70.2" stroke="#000" stroke-width="0.9" />
<line x1="337.7" y1="58.8" x2="340.7" y2="58.8" stroke="#000" stroke-width="0.9" />
<line x1="337.7" y1="70.2" x2="340.7" y2="70.2" stroke="#000" stroke-width="0.9" />
<circle cx="339.2" cy="64.2" r="1.5" fill="#000"/>
<line x1="345.6" y1="50.7" x2="345.6" y2="64" stroke="#000" stroke-width="0.9" />
<line x1="344.1" y1="50.7" x2="347.1" y2="50.7" stroke="#000" stroke-width="0.9" />
<line x1="344.1" y1="64" x2="347.1" y2="64" stroke="#000" stroke-width="0.9" />
<circle cx="345.6" cy="57.2" r="1.5" fill="#000"/>
<line x1="351.5" y1="47.5" x2="351.5" y2="56.3" stroke="#000" stroke-width="0.9" />
<line x1="350.0" y1="47.5" x2="353.0" y2="47.5" stroke="#000" stroke-width="0.9" />
<line x1="350.0" y1="56.3" x2="353.0" y2="56.3" stroke="#000" stroke-width="0.9" />
<circle cx="351.5" cy="52.1" r="1.5" fill="#000"/>
<circle cx="392.3" cy="47.8" r="1.5" fill="#000"/>
<line x1="432.5" y1="29.2" x2="432.5" y2="93" stroke="#000" stroke-width="1.15" />
<line x1="431.9" y1="93" x2="510.3" y2="93" stroke="#000" stroke-width="1.25" />
<line x1="430.2" y1="93.0" x2="432.2" y2="93.0" stroke="#000" stroke-width="1" />
<text x="427.9" y="96.2" font-size="9.2" text-anchor="end" textLength="4.6" lengthAdjust="spacingAndGlyphs">0</text>
<line x1="430.2" y1="80.44" x2="432.2" y2="80.44" stroke="#000" stroke-width="1" />
<text x="429.59999999999997" y="83.64" font-size="9.2" text-anchor="end" textLength="9.2" lengthAdjust="spacingAndGlyphs">20</text>
<line x1="430.2" y1="67.88" x2="432.2" y2="67.88" stroke="#000" stroke-width="1" />
<text x="429.59999999999997" y="71.08" font-size="9.2" text-anchor="end" textLength="9.2" lengthAdjust="spacingAndGlyphs">40</text>
<line x1="430.2" y1="55.32000000000001" x2="432.2" y2="55.32000000000001" stroke="#000" stroke-width="1" />
<text x="429.59999999999997" y="58.52000000000001" font-size="9.2" text-anchor="end" textLength="9.2" lengthAdjust="spacingAndGlyphs">60</text>
<line x1="430.2" y1="42.760000000000005" x2="432.2" y2="42.760000000000005" stroke="#000" stroke-width="1" />
<text x="429.59999999999997" y="45.96000000000001" font-size="9.2" text-anchor="end" textLength="9.2" lengthAdjust="spacingAndGlyphs">80</text>
<line x1="430.2" y1="30.200000000000003" x2="432.2" y2="30.200000000000003" stroke="#000" stroke-width="1" />
<text x="429.59999999999997" y="33.400000000000006" font-size="9.2" text-anchor="end" textLength="13.8" lengthAdjust="spacingAndGlyphs">100</text>
<line x1="432.7" y1="93" x2="432.7" y2="95" stroke="#000" stroke-width="1" />
<text x="432.7" y="104.2" font-size="9.2" text-anchor="middle" font-weight="normal" >0</text>
<line x1="452.225" y1="93" x2="452.225" y2="95" stroke="#000" stroke-width="1" />
<text x="452.225" y="104.2" font-size="9.2" text-anchor="middle" font-weight="normal" >20</text>
<line x1="471.75" y1="93" x2="471.75" y2="95" stroke="#000" stroke-width="1" />
<text x="471.75" y="104.2" font-size="9.2" text-anchor="middle" font-weight="normal" >40</text>
<line x1="491.275" y1="93" x2="491.275" y2="95" stroke="#000" stroke-width="1" />
<text x="491.275" y="104.2" font-size="9.2" text-anchor="middle" font-weight="normal" >60</text>
<line x1="510.8" y1="93" x2="510.8" y2="95" stroke="#000" stroke-width="1" />
<text x="510.8" y="104.2" font-size="9.2" text-anchor="middle" font-weight="normal" >80</text>
<path d="M447.3,49.7 L453.8,58 L460,56.8 L500,44.6" fill="none" stroke="#000" stroke-width="1.1"/>
<line x1="447.3" y1="43.5" x2="447.3" y2="55" stroke="#000" stroke-width="0.9" />
<line x1="445.8" y1="43.5" x2="448.8" y2="43.5" stroke="#000" stroke-width="0.9" />
<line x1="445.8" y1="55" x2="448.8" y2="55" stroke="#000" stroke-width="0.9" />
<circle cx="447.3" cy="49.7" r="1.5" fill="#000"/>
<line x1="453.8" y1="53.8" x2="453.8" y2="61.2" stroke="#000" stroke-width="0.9" />
<line x1="452.3" y1="53.8" x2="455.3" y2="53.8" stroke="#000" stroke-width="0.9" />
<line x1="452.3" y1="61.2" x2="455.3" y2="61.2" stroke="#000" stroke-width="0.9" />
<circle cx="453.8" cy="58" r="1.5" fill="#000"/>
<line x1="460" y1="54.3" x2="460" y2="59.3" stroke="#000" stroke-width="0.9" />
<line x1="458.5" y1="54.3" x2="461.5" y2="54.3" stroke="#000" stroke-width="0.9" />
<line x1="458.5" y1="59.3" x2="461.5" y2="59.3" stroke="#000" stroke-width="0.9" />
<circle cx="460" cy="56.8" r="1.5" fill="#000"/>
<line x1="500" y1="39.5" x2="500" y2="48.8" stroke="#000" stroke-width="0.9" />
<line x1="498.5" y1="39.5" x2="501.5" y2="39.5" stroke="#000" stroke-width="0.9" />
<line x1="498.5" y1="48.8" x2="501.5" y2="48.8" stroke="#000" stroke-width="0.9" />
<circle cx="500" cy="44.6" r="1.5" fill="#000"/>
<line x1="324.40000000000003" y1="117" x2="324.40000000000003" y2="181.2" stroke="#000" stroke-width="1.15" />
<line x1="323.8" y1="181.2" x2="402" y2="181.2" stroke="#000" stroke-width="1.25" />
<line x1="322.1" y1="181.2" x2="324.1" y2="181.2" stroke="#000" stroke-width="1" />
<text x="319.8" y="184.39999999999998" font-size="9.2" text-anchor="end" textLength="4.6" lengthAdjust="spacingAndGlyphs">0</text>
<line x1="322.1" y1="168.56" x2="324.1" y2="168.56" stroke="#000" stroke-width="1" />
<text x="321.5" y="171.76" font-size="9.2" text-anchor="end" textLength="9.2" lengthAdjust="spacingAndGlyphs">20</text>
<line x1="322.1" y1="155.92" x2="324.1" y2="155.92" stroke="#000" stroke-width="1" />
<text x="321.5" y="159.11999999999998" font-size="9.2" text-anchor="end" textLength="9.2" lengthAdjust="spacingAndGlyphs">40</text>
<line x1="322.1" y1="143.28" x2="324.1" y2="143.28" stroke="#000" stroke-width="1" />
<text x="321.5" y="146.48" font-size="9.2" text-anchor="end" textLength="9.2" lengthAdjust="spacingAndGlyphs">60</text>
<line x1="322.1" y1="130.64" x2="324.1" y2="130.64" stroke="#000" stroke-width="1" />
<text x="321.5" y="133.83999999999997" font-size="9.2" text-anchor="end" textLength="9.2" lengthAdjust="spacingAndGlyphs">80</text>
<line x1="322.1" y1="118.0" x2="324.1" y2="118.0" stroke="#000" stroke-width="1" />
<text x="321.5" y="121.2" font-size="9.2" text-anchor="end" textLength="13.8" lengthAdjust="spacingAndGlyphs">100</text>
<line x1="324.6" y1="181.2" x2="324.6" y2="183.2" stroke="#000" stroke-width="1" />
<text x="324.6" y="192.39999999999998" font-size="9.2" text-anchor="middle" font-weight="normal" >0</text>
<line x1="344.07500000000005" y1="181.2" x2="344.07500000000005" y2="183.2" stroke="#000" stroke-width="1" />
<text x="344.07500000000005" y="192.39999999999998" font-size="9.2" text-anchor="middle" font-weight="normal" >20</text>
<line x1="363.55" y1="181.2" x2="363.55" y2="183.2" stroke="#000" stroke-width="1" />
<text x="363.55" y="192.39999999999998" font-size="9.2" text-anchor="middle" font-weight="normal" >40</text>
<line x1="383.025" y1="181.2" x2="383.025" y2="183.2" stroke="#000" stroke-width="1" />
<text x="383.025" y="192.39999999999998" font-size="9.2" text-anchor="middle" font-weight="normal" >60</text>
<line x1="402.5" y1="181.2" x2="402.5" y2="183.2" stroke="#000" stroke-width="1" />
<text x="402.5" y="192.39999999999998" font-size="9.2" text-anchor="middle" font-weight="normal" >80</text>
<path d="M339,173.8 L345.8,143.4 L351.8,140.4 L392.7,132.3" fill="none" stroke="#000" stroke-width="1.1"/>
<line x1="339" y1="171" x2="339" y2="177.3" stroke="#000" stroke-width="0.9" />
<line x1="337.5" y1="171" x2="340.5" y2="171" stroke="#000" stroke-width="0.9" />
<line x1="337.5" y1="177.3" x2="340.5" y2="177.3" stroke="#000" stroke-width="0.9" />
<circle cx="339" cy="173.8" r="1.5" fill="#000"/>
<line x1="345.8" y1="132.8" x2="345.8" y2="153.5" stroke="#000" stroke-width="0.9" />
<line x1="344.3" y1="132.8" x2="347.3" y2="132.8" stroke="#000" stroke-width="0.9" />
<line x1="344.3" y1="153.5" x2="347.3" y2="153.5" stroke="#000" stroke-width="0.9" />
<circle cx="345.8" cy="143.4" r="1.5" fill="#000"/>
<line x1="351.8" y1="130.7" x2="351.8" y2="149.2" stroke="#000" stroke-width="0.9" />
<line x1="350.3" y1="130.7" x2="353.3" y2="130.7" stroke="#000" stroke-width="0.9" />
<line x1="350.3" y1="149.2" x2="353.3" y2="149.2" stroke="#000" stroke-width="0.9" />
<circle cx="351.8" cy="140.4" r="1.5" fill="#000"/>
<line x1="392.7" y1="127.2" x2="392.7" y2="137" stroke="#000" stroke-width="0.9" />
<line x1="391.2" y1="127.2" x2="394.2" y2="127.2" stroke="#000" stroke-width="0.9" />
<line x1="391.2" y1="137" x2="394.2" y2="137" stroke="#000" stroke-width="0.9" />
<circle cx="392.7" cy="132.3" r="1.5" fill="#000"/>
<line x1="432.5" y1="117" x2="432.5" y2="181.2" stroke="#000" stroke-width="1.15" />
<line x1="431.9" y1="181.2" x2="510.3" y2="181.2" stroke="#000" stroke-width="1.25" />
<line x1="430.2" y1="181.2" x2="432.2" y2="181.2" stroke="#000" stroke-width="1" />
<text x="427.9" y="184.39999999999998" font-size="9.2" text-anchor="end" textLength="4.6" lengthAdjust="spacingAndGlyphs">0</text>
<line x1="430.2" y1="168.56" x2="432.2" y2="168.56" stroke="#000" stroke-width="1" />
<text x="429.59999999999997" y="171.76" font-size="9.2" text-anchor="end" textLength="9.2" lengthAdjust="spacingAndGlyphs">20</text>
<line x1="430.2" y1="155.92" x2="432.2" y2="155.92" stroke="#000" stroke-width="1" />
<text x="429.59999999999997" y="159.11999999999998" font-size="9.2" text-anchor="end" textLength="9.2" lengthAdjust="spacingAndGlyphs">40</text>
<line x1="430.2" y1="143.28" x2="432.2" y2="143.28" stroke="#000" stroke-width="1" />
<text x="429.59999999999997" y="146.48" font-size="9.2" text-anchor="end" textLength="9.2" lengthAdjust="spacingAndGlyphs">60</text>
<line x1="430.2" y1="130.64" x2="432.2" y2="130.64" stroke="#000" stroke-width="1" />
<text x="429.59999999999997" y="133.83999999999997" font-size="9.2" text-anchor="end" textLength="9.2" lengthAdjust="spacingAndGlyphs">80</text>
<line x1="430.2" y1="118.0" x2="432.2" y2="118.0" stroke="#000" stroke-width="1" />
<text x="429.59999999999997" y="121.2" font-size="9.2" text-anchor="end" textLength="13.8" lengthAdjust="spacingAndGlyphs">100</text>
<line x1="432.7" y1="181.2" x2="432.7" y2="183.2" stroke="#000" stroke-width="1" />
<text x="432.7" y="192.39999999999998" font-size="9.2" text-anchor="middle" font-weight="normal" >0</text>
<line x1="452.225" y1="181.2" x2="452.225" y2="183.2" stroke="#000" stroke-width="1" />
<text x="452.225" y="192.39999999999998" font-size="9.2" text-anchor="middle" font-weight="normal" >20</text>
<line x1="471.75" y1="181.2" x2="471.75" y2="183.2" stroke="#000" stroke-width="1" />
<text x="471.75" y="192.39999999999998" font-size="9.2" text-anchor="middle" font-weight="normal" >40</text>
<line x1="491.275" y1="181.2" x2="491.275" y2="183.2" stroke="#000" stroke-width="1" />
<text x="491.275" y="192.39999999999998" font-size="9.2" text-anchor="middle" font-weight="normal" >60</text>
<line x1="510.8" y1="181.2" x2="510.8" y2="183.2" stroke="#000" stroke-width="1" />
<text x="510.8" y="192.39999999999998" font-size="9.2" text-anchor="middle" font-weight="normal" >80</text>
<path d="M447.3,179.5 L453.8,141 L459.5,172 L500.9,181" fill="none" stroke="#000" stroke-width="1.1"/>
<line x1="447.3" y1="176" x2="447.3" y2="181" stroke="#000" stroke-width="0.9" />
<line x1="445.8" y1="176" x2="448.8" y2="176" stroke="#000" stroke-width="0.9" />
<line x1="445.8" y1="181" x2="448.8" y2="181" stroke="#000" stroke-width="0.9" />
<circle cx="447.3" cy="179.5" r="1.5" fill="#000"/>
<line x1="453.8" y1="132.3" x2="453.8" y2="146" stroke="#000" stroke-width="0.9" />
<line x1="452.3" y1="132.3" x2="455.3" y2="132.3" stroke="#000" stroke-width="0.9" />
<line x1="452.3" y1="146" x2="455.3" y2="146" stroke="#000" stroke-width="0.9" />
<circle cx="453.8" cy="141" r="1.5" fill="#000"/>
<line x1="459.5" y1="165.8" x2="459.5" y2="178" stroke="#000" stroke-width="0.9" />
<line x1="458.0" y1="165.8" x2="461.0" y2="165.8" stroke="#000" stroke-width="0.9" />
<line x1="458.0" y1="178" x2="461.0" y2="178" stroke="#000" stroke-width="0.9" />
<circle cx="459.5" cy="172" r="1.5" fill="#000"/>
<circle cx="500.9" cy="181" r="1.5" fill="#000"/>
<text x="459.5" y="164.5" font-size="8" text-anchor="middle" font-weight="normal" >*</text>
<text x="501" y="178.5" font-size="8" text-anchor="middle" font-weight="normal" >**</text>
<text x="23" y="248" font-size="9.2" text-anchor="start" font-weight="normal" >CD45.1 WT hosts</text>
<text x="104.7" y="228.6" font-size="9.2" text-anchor="start" font-weight="normal" >950 rad</text>
<text x="175" y="281.4" font-size="9.2" text-anchor="middle" font-weight="normal" >Inject CD45.1</text>
<text x="175" y="291.7" font-size="9.2" text-anchor="middle" font-weight="normal" >rescue BM</text>
<text x="215" y="251.8" font-size="9.2" text-anchor="start" font-weight="normal" >Wait indicated time</text>
<text x="339.4" y="248.6" font-size="9.2" text-anchor="middle" font-weight="normal" >Inject CD45.2 BM</text>
<text x="339.7" y="259.4" font-size="9.2" text-anchor="middle" font-weight="normal" >(WT or DKO) and</text>
<text x="339.4" y="270.4" font-size="9.2" text-anchor="middle" font-weight="normal" >CD45.1 host BM (5:1)</text>
<text x="388" y="252" font-size="9.2" text-anchor="start" font-weight="normal" >Wait 3 weeks</text>
<text x="451.4" y="256.8" font-size="9.2" text-anchor="start" font-weight="normal" >Analyze BM</text>
<text x="451.4" y="266.6" font-size="9.2" text-anchor="start" font-weight="normal" >and thymus</text>
<path d="M25.3,267.8 C27,265.0 28,264.6 29.3,264.8 C31,265.0 33,269.5 35.3,269.4 C36.8,269.3 37.5,268.0 38.3,267.3" fill="none" stroke="#000" stroke-width="1.1"/>
<path d="M38,267.5 C41,248.5 67.5,248.5 70.5,267.5" fill="none" stroke="#000" stroke-width="1.1"/>
<path d="M70.5,267.5 C72,258.0 85,258.0 87.5,267.5" fill="none" stroke="#000" stroke-width="1.1"/>
<line x1="38" y1="267.5" x2="87.8" y2="267.5" stroke="#000" stroke-width="1.2" />
<path d="M77.5,260.5 L79,254.5 C79.3,253.0 80.2,253.0 80.5,254.5 L81.5,260.0 M77.8,258.0 L81,257.7" fill="none" stroke="#000" stroke-width="0.9"/>
<ellipse cx="83.6" cy="264.2" rx="1.5" ry="1.1" transform="rotate(-35 83.6 264.2)" fill="#000"/>
<path d="M145.10000000000002,267.8 C146.8,265.0 147.8,264.6 149.10000000000002,264.8 C150.8,265.0 152.8,269.5 155.10000000000002,269.4 C156.60000000000002,269.3 157.3,268.0 158.10000000000002,267.3" fill="none" stroke="#000" stroke-width="1.1"/>
<path d="M157.8,267.5 C160.8,248.5 187.3,248.5 190.3,267.5" fill="none" stroke="#000" stroke-width="1.1"/>
<path d="M190.3,267.5 C191.8,258.0 204.8,258.0 207.3,267.5" fill="none" stroke="#000" stroke-width="1.1"/>
<line x1="157.8" y1="267.5" x2="207.60000000000002" y2="267.5" stroke="#000" stroke-width="1.2" />
<path d="M197.3,260.5 L198.8,254.5 C199.10000000000002,253.0 200.0,253.0 200.3,254.5 L201.3,260.0 M197.60000000000002,258.0 L200.8,257.7" fill="none" stroke="#000" stroke-width="0.9"/>
<ellipse cx="203.4" cy="264.2" rx="1.5" ry="1.1" transform="rotate(-35 203.4 264.2)" fill="#000"/>
<path d="M117.2,233.4 L122.9,232 L121.2,238.6 L120.6,239.1 L121,240.2 L120.7,244.6 L120,245.2 L120.3,246.3 L118.4,254.5 L116.7,246.6 L117.4,245.8 L116.5,244.5 L116.6,240.4 L117.8,239.4 L117.4,238.5 Z" fill="#000"/>
<line x1="104.3" y1="257.1" x2="129.7" y2="257.1" stroke="#000" stroke-width="1.3" />
<path d="M127.19999999999999,253.50000000000003 L135.7,257.1 L127.19999999999999,260.70000000000005 Z" fill="#000"/>
<line x1="214.5" y1="257.2" x2="286.4" y2="257.2" stroke="#000" stroke-width="1.3" />
<path d="M283.9,253.6 L292.4,257.2 L283.9,260.8 Z" fill="#000"/>
<line x1="384.8" y1="256.8" x2="438.6" y2="256.8" stroke="#000" stroke-width="1.3" />
<path d="M436.1,253.20000000000002 L444.6,256.8 L436.1,260.40000000000003 Z" fill="#000"/>
<g transform="translate(192.05,237.6) rotate(26)"><line x1="0" y1="5" x2="0" y2="15.8" stroke="#000" stroke-width="1"/><path d="M-2.3,-5.8 L-2.3,4.2 Q-2.3,6 0,6.2 Q2.3,6 2.3,4.2 L2.3,-5.8" fill="#fff" stroke="#000" stroke-width="1.3"/><line x1="0" y1="-6.7" x2="0" y2="-10.7" stroke="#000" stroke-width="1.3"/><line x1="-4.9" y1="-6.75" x2="4.9" y2="-6.75" stroke="#000" stroke-width="1.7" stroke-linecap="round"/><line x1="-2.8" y1="-10.7" x2="2.8" y2="-10.7" stroke="#000" stroke-width="1.6" stroke-linecap="round"/></g>
<line x1="30.6" y1="338.1" x2="30.6" y2="455" stroke="#000" stroke-width="1.3" />
<line x1="30.0" y1="455" x2="243.8" y2="455" stroke="#000" stroke-width="1.3" />
<line x1="243.8" y1="453.5" x2="243.8" y2="456" stroke="#000" stroke-width="0.8" />
<line x1="28.6" y1="455.0" x2="30.6" y2="455.0" stroke="#000" stroke-width="1" />
<text x="28.400000000000002" y="458.2" font-size="9.2" text-anchor="end" font-weight="normal" >0</text>
<line x1="28.6" y1="431.72" x2="30.6" y2="431.72" stroke="#000" stroke-width="1" />
<text x="28.400000000000002" y="434.92" font-size="9.2" text-anchor="end" font-weight="normal" >20</text>
<line x1="28.6" y1="408.44" x2="30.6" y2="408.44" stroke="#000" stroke-width="1" />
<text x="28.400000000000002" y="411.64" font-size="9.2" text-anchor="end" font-weight="normal" >40</text>
<line x1="28.6" y1="385.16" x2="30.6" y2="385.16" stroke="#000" stroke-width="1" />
<text x="28.400000000000002" y="388.36" font-size="9.2" text-anchor="end" font-weight="normal" >60</text>
<line x1="28.6" y1="361.88" x2="30.6" y2="361.88" stroke="#000" stroke-width="1" />
<text x="28.400000000000002" y="365.08" font-size="9.2" text-anchor="end" font-weight="normal" >80</text>
<line x1="28.6" y1="338.6" x2="30.6" y2="338.6" stroke="#000" stroke-width="1" />
<text x="28.400000000000002" y="341.8" font-size="9.2" text-anchor="end" font-weight="normal" >100</text>
<text transform="translate(15.3,395.2) rotate(-90)" font-size="9.2" text-anchor="middle">CD45.2 chimerism (%)</text>
<line x1="39.05" y1="461.2" x2="51.05" y2="461.2" stroke="#000" stroke-width="1" />
<text transform="translate(50.65,477.40) rotate(45)" font-size="9.2" text-anchor="middle" dy="3.2">0 days</text>
<line x1="68.12" y1="461.2" x2="80.12" y2="461.2" stroke="#000" stroke-width="1" />
<text transform="translate(79.72,477.40) rotate(45)" font-size="9.2" text-anchor="middle" dy="3.2">1 days</text>
<line x1="97.19" y1="461.2" x2="109.19" y2="461.2" stroke="#000" stroke-width="1" />
<text transform="translate(108.79,477.40) rotate(45)" font-size="9.2" text-anchor="middle" dy="3.2">2 days</text>
<line x1="126.25999999999999" y1="461.2" x2="138.26" y2="461.2" stroke="#000" stroke-width="1" />
<text transform="translate(137.86,477.40) rotate(45)" font-size="9.2" text-anchor="middle" dy="3.2">4 days</text>
<line x1="155.32999999999998" y1="461.2" x2="167.32999999999998" y2="461.2" stroke="#000" stroke-width="1" />
<text transform="translate(166.43,477.10) rotate(45)" font-size="9.2" text-anchor="middle" dy="3.2">1 week</text>
<line x1="184.39999999999998" y1="461.2" x2="196.39999999999998" y2="461.2" stroke="#000" stroke-width="1" />
<text transform="translate(195.30,479.40) rotate(45)" font-size="9.2" text-anchor="middle" dy="3.2">2 weeks</text>
<line x1="213.47000000000003" y1="461.2" x2="225.47000000000003" y2="461.2" stroke="#000" stroke-width="1" />
<text transform="translate(225.37,479.40) rotate(45)" font-size="9.2" text-anchor="middle" dy="3.2">3 weeks</text>
<line x1="30.4" y1="497.2" x2="240.5" y2="497.2" stroke="#000" stroke-width="1.2" />
<text x="27" y="509.4" font-size="9.2" text-anchor="start" font-weight="normal" >Time between irradiation and injection of CD45.2 BM</text>
<rect x="33.6" y="347.0" width="4" height="3.9" fill="#000"/>
<rect x="37.2" y="348.7" width="4" height="3.9" fill="#000"/>
<rect x="41" y="347.0" width="4" height="3.9" fill="#000"/>
<rect x="66" y="352.2" width="4" height="3.9" fill="#000"/>
<rect x="66" y="359.8" width="4" height="3.9" fill="#000"/>
<rect x="92.6" y="347.7" width="4" height="3.9" fill="#000"/>
<rect x="96.9" y="347.7" width="4" height="3.9" fill="#000"/>
<rect x="95.2" y="354.8" width="4" height="3.9" fill="#000"/>
<rect x="124.8" y="351.0" width="4" height="3.9" fill="#000"/>
<rect x="124.8" y="370.0" width="4" height="3.9" fill="#000"/>
<rect x="153.2" y="370.7" width="4" height="3.9" fill="#000"/>
<rect x="153.2" y="380.59999999999997" width="4" height="3.9" fill="#000"/>
<rect x="179.8" y="376.2" width="4" height="3.9" fill="#000"/>
<rect x="184.8" y="377.09999999999997" width="4" height="3.9" fill="#000"/>
<rect x="211.9" y="380.9" width="4" height="3.9" fill="#000"/>
<rect x="211.9" y="389.7" width="4" height="3.9" fill="#000"/>
<rect x="211.9" y="399.59999999999997" width="4" height="3.9" fill="#000"/>
<rect x="47.699999999999996" y="347.4" width="3.2" height="3.2" fill="#fff" stroke="#000" stroke-width="0.8"/>
<rect x="51.199999999999996" y="346.2" width="3.2" height="3.2" fill="#fff" stroke="#000" stroke-width="0.8"/>
<rect x="52.6" y="349.4" width="3.2" height="3.2" fill="#fff" stroke="#000" stroke-width="0.8"/>
<rect x="47.4" y="350.5" width="3.2" height="3.2" fill="#fff" stroke="#000" stroke-width="0.8"/>
<rect x="49.199999999999996" y="352.5" width="3.2" height="3.2" fill="#fff" stroke="#000" stroke-width="0.8"/>
<rect x="77.80000000000001" y="347.4" width="3.2" height="3.2" fill="#fff" stroke="#000" stroke-width="0.8"/>
<rect x="77.80000000000001" y="357.0" width="3.2" height="3.2" fill="#fff" stroke="#000" stroke-width="0.8"/>
<rect x="106.4" y="345.4" width="3.2" height="3.2" fill="#fff" stroke="#000" stroke-width="0.8"/>
<rect x="104.4" y="350.4" width="3.2" height="3.2" fill="#fff" stroke="#000" stroke-width="0.8"/>
<rect x="108.2" y="351.9" width="3.2" height="3.2" fill="#fff" stroke="#000" stroke-width="0.8"/>
<rect x="106.4" y="368.09999999999997" width="3.2" height="3.2" fill="#fff" stroke="#000" stroke-width="0.8"/>
<rect x="132.8" y="364.4" width="3.2" height="3.2" fill="#fff" stroke="#000" stroke-width="0.8"/>
<rect x="136.1" y="363.09999999999997" width="3.2" height="3.2" fill="#fff" stroke="#000" stroke-width="0.8"/>
<rect x="163.0" y="366.4" width="3.2" height="3.2" fill="#fff" stroke="#000" stroke-width="0.8"/>
<rect x="166.20000000000002" y="366.4" width="3.2" height="3.2" fill="#fff" stroke="#000" stroke-width="0.8"/>
<rect x="164.4" y="370.9" width="3.2" height="3.2" fill="#fff" stroke="#000" stroke-width="0.8"/>
<rect x="164.4" y="382.09999999999997" width="3.2" height="3.2" fill="#fff" stroke="#000" stroke-width="0.8"/>
<rect x="193.4" y="368.4" width="3.2" height="3.2" fill="#fff" stroke="#000" stroke-width="0.8"/>
<rect x="191.1" y="394.7" width="3.2" height="3.2" fill="#fff" stroke="#000" stroke-width="0.8"/>
<rect x="194.9" y="393.7" width="3.2" height="3.2" fill="#fff" stroke="#000" stroke-width="0.8"/>
<rect x="193.4" y="402.59999999999997" width="3.2" height="3.2" fill="#fff" stroke="#000" stroke-width="0.8"/>
<rect x="223.4" y="390.9" width="3.2" height="3.2" fill="#fff" stroke="#000" stroke-width="0.8"/>
<rect x="223.4" y="419.0" width="3.2" height="3.2" fill="#fff" stroke="#000" stroke-width="0.8"/>
<rect x="223.4" y="422.59999999999997" width="3.2" height="3.2" fill="#fff" stroke="#000" stroke-width="0.8"/>
<rect x="223.4" y="431.4" width="3.2" height="3.2" fill="#fff" stroke="#000" stroke-width="0.8"/>
<rect x="223.4" y="436.5" width="3.2" height="3.2" fill="#fff" stroke="#000" stroke-width="0.8"/>
<text x="89.8" y="317.2" font-size="9.2" text-anchor="start" font-weight="normal" >BM granulocytes</text>
<line x1="296.90000000000003" y1="338.1" x2="296.90000000000003" y2="455" stroke="#000" stroke-width="1.3" />
<line x1="296.3" y1="455" x2="510.1" y2="455" stroke="#000" stroke-width="1.3" />
<line x1="510.1" y1="453.5" x2="510.1" y2="456" stroke="#000" stroke-width="0.8" />
<line x1="294.90000000000003" y1="455.0" x2="296.90000000000003" y2="455.0" stroke="#000" stroke-width="1" />
<text x="294.70000000000005" y="458.2" font-size="9.2" text-anchor="end" font-weight="normal" >0</text>
<line x1="294.90000000000003" y1="431.72" x2="296.90000000000003" y2="431.72" stroke="#000" stroke-width="1" />
<text x="294.70000000000005" y="434.92" font-size="9.2" text-anchor="end" font-weight="normal" >20</text>
<line x1="294.90000000000003" y1="408.44" x2="296.90000000000003" y2="408.44" stroke="#000" stroke-width="1" />
<text x="294.70000000000005" y="411.64" font-size="9.2" text-anchor="end" font-weight="normal" >40</text>
<line x1="294.90000000000003" y1="385.16" x2="296.90000000000003" y2="385.16" stroke="#000" stroke-width="1" />
<text x="294.70000000000005" y="388.36" font-size="9.2" text-anchor="end" font-weight="normal" >60</text>
<line x1="294.90000000000003" y1="361.88" x2="296.90000000000003" y2="361.88" stroke="#000" stroke-width="1" />
<text x="294.70000000000005" y="365.08" font-size="9.2" text-anchor="end" font-weight="normal" >80</text>
<line x1="294.90000000000003" y1="338.6" x2="296.90000000000003" y2="338.6" stroke="#000" stroke-width="1" />
<text x="294.70000000000005" y="341.8" font-size="9.2" text-anchor="end" font-weight="normal" >100</text>
<text transform="translate(281.6,395.2) rotate(-90)" font-size="9.2" text-anchor="middle">CD45.2 chimerism (%)</text>
<line x1="305.35" y1="461.2" x2="317.35" y2="461.2" stroke="#000" stroke-width="1" />
<text transform="translate(316.95,477.40) rotate(45)" font-size="9.2" text-anchor="middle" dy="3.2">0 days</text>
<line x1="334.42" y1="461.2" x2="346.42" y2="461.2" stroke="#000" stroke-width="1" />
<text transform="translate(346.02,477.40) rotate(45)" font-size="9.2" text-anchor="middle" dy="3.2">1 days</text>
<line x1="363.49" y1="461.2" x2="375.49" y2="461.2" stroke="#000" stroke-width="1" />
<text transform="translate(375.09,477.40) rotate(45)" font-size="9.2" text-anchor="middle" dy="3.2">2 days</text>
<line x1="392.56000000000006" y1="461.2" x2="404.56000000000006" y2="461.2" stroke="#000" stroke-width="1" />
<text transform="translate(404.16,477.40) rotate(45)" font-size="9.2" text-anchor="middle" dy="3.2">4 days</text>
<line x1="421.63" y1="461.2" x2="433.63" y2="461.2" stroke="#000" stroke-width="1" />
<text transform="translate(432.73,477.10) rotate(45)" font-size="9.2" text-anchor="middle" dy="3.2">1 week</text>
<line x1="450.70000000000005" y1="461.2" x2="462.70000000000005" y2="461.2" stroke="#000" stroke-width="1" />
<text transform="translate(461.60,479.40) rotate(45)" font-size="9.2" text-anchor="middle" dy="3.2">2 weeks</text>
<line x1="479.77000000000004" y1="461.2" x2="491.77000000000004" y2="461.2" stroke="#000" stroke-width="1" />
<text transform="translate(491.67,479.40) rotate(45)" font-size="9.2" text-anchor="middle" dy="3.2">3 weeks</text>
<line x1="296.7" y1="497.2" x2="506.8" y2="497.2" stroke="#000" stroke-width="1.2" />
<text x="293.3" y="509.4" font-size="9.2" text-anchor="start" font-weight="normal" >Time between irradiation and injection of CD45.2 BM</text>
<rect x="301.1" y="337.8" width="4" height="3.9" fill="#000"/>
<rect x="305.7" y="337.5" width="4" height="3.9" fill="#000"/>
<rect x="303.8" y="350.4" width="4" height="3.9" fill="#000"/>
<rect x="303.8" y="367.9" width="4" height="3.9" fill="#000"/>
<rect x="330.3" y="338.7" width="4" height="3.9" fill="#000"/>
<rect x="335" y="340.59999999999997" width="4" height="3.9" fill="#000"/>
<rect x="332.2" y="348.8" width="4" height="3.9" fill="#000"/>
<rect x="332.2" y="362.4" width="4" height="3.9" fill="#000"/>
<rect x="359" y="343.3" width="4" height="3.9" fill="#000"/>
<rect x="363.6" y="341.4" width="4" height="3.9" fill="#000"/>
<rect x="361.1" y="350.4" width="4" height="3.9" fill="#000"/>
<rect x="361.1" y="394.09999999999997" width="4" height="3.9" fill="#000"/>
<rect x="361.1" y="398.7" width="4" height="3.9" fill="#000"/>
<rect x="361.1" y="428.2" width="4" height="3.9" fill="#000"/>
<rect x="390.3" y="347.7" width="4" height="3.9" fill="#000"/>
<rect x="395" y="350.4" width="4" height="3.9" fill="#000"/>
<rect x="390.3" y="353.2" width="4" height="3.9" fill="#000"/>
<rect x="390.3" y="360.5" width="4" height="3.9" fill="#000"/>
<rect x="419.5" y="383.7" width="4" height="3.9" fill="#000"/>
<rect x="419.5" y="391.3" width="4" height="3.9" fill="#000"/>
<rect x="417.6" y="436.09999999999997" width="4" height="3.9" fill="#000"/>
<rect x="422.2" y="437.5" width="4" height="3.9" fill="#000"/>
<rect x="449.5" y="391.9" width="4" height="3.9" fill="#000"/>
<rect x="449.5" y="419.2" width="4" height="3.9" fill="#000"/>
<rect x="479" y="376.3" width="4" height="3.9" fill="#000"/>
<rect x="479" y="390.0" width="4" height="3.9" fill="#000"/>
<rect x="479" y="413.2" width="4" height="3.9" fill="#000"/>
<rect x="479" y="419.7" width="4" height="3.9" fill="#000"/>
<rect x="314.9" y="338.0" width="3.2" height="3.2" fill="#fff" stroke="#000" stroke-width="0.8"/>
<rect x="314.9" y="352.5" width="3.2" height="3.2" fill="#fff" stroke="#000" stroke-width="0.8"/>
<rect x="314.9" y="356.4" width="3.2" height="3.2" fill="#fff" stroke="#000" stroke-width="0.8"/>
<rect x="313.5" y="359.9" width="3.2" height="3.2" fill="#fff" stroke="#000" stroke-width="0.8"/>
<rect x="316.79999999999995" y="359.9" width="3.2" height="3.2" fill="#fff" stroke="#000" stroke-width="0.8"/>
<rect x="314.9" y="362.09999999999997" width="3.2" height="3.2" fill="#fff" stroke="#000" stroke-width="0.8"/>
<rect x="314.9" y="394.79999999999995" width="3.2" height="3.2" fill="#fff" stroke="#000" stroke-width="0.8"/>
<rect x="314.9" y="408.4" width="3.2" height="3.2" fill="#fff" stroke="#000" stroke-width="0.8"/>
<rect x="344.4" y="373.0" width="3.2" height="3.2" fill="#fff" stroke="#000" stroke-width="0.8"/>
<rect x="344.4" y="375.7" width="3.2" height="3.2" fill="#fff" stroke="#000" stroke-width="0.8"/>
<rect x="344.4" y="383.9" width="3.2" height="3.2" fill="#fff" stroke="#000" stroke-width="0.8"/>
<rect x="344.4" y="386.59999999999997" width="3.2" height="3.2" fill="#fff" stroke="#000" stroke-width="0.8"/>
<rect x="372.4" y="351.7" width="3.2" height="3.2" fill="#fff" stroke="#000" stroke-width="0.8"/>
<rect x="372.4" y="384.4" width="3.2" height="3.2" fill="#fff" stroke="#000" stroke-width="0.8"/>
<rect x="372.4" y="389.9" width="3.2" height="3.2" fill="#fff" stroke="#000" stroke-width="0.8"/>
<rect x="372.4" y="402.4" width="3.2" height="3.2" fill="#fff" stroke="#000" stroke-width="0.8"/>
<rect x="372.4" y="413.9" width="3.2" height="3.2" fill="#fff" stroke="#000" stroke-width="0.8"/>
<rect x="370.29999999999995" y="422.09999999999997" width="3.2" height="3.2" fill="#fff" stroke="#000" stroke-width="0.8"/>
<rect x="374.9" y="422.09999999999997" width="3.2" height="3.2" fill="#fff" stroke="#000" stroke-width="0.8"/>
<rect x="372.4" y="430.79999999999995" width="3.2" height="3.2" fill="#fff" stroke="#000" stroke-width="0.8"/>
<rect x="400.2" y="400.29999999999995" width="3.2" height="3.2" fill="#fff" stroke="#000" stroke-width="0.8"/>
<rect x="404.29999999999995" y="403.0" width="3.2" height="3.2" fill="#fff" stroke="#000" stroke-width="0.8"/>
<rect x="402.09999999999997" y="409.29999999999995" width="3.2" height="3.2" fill="#fff" stroke="#000" stroke-width="0.8"/>
<rect x="402.09999999999997" y="437.7" width="3.2" height="3.2" fill="#fff" stroke="#000" stroke-width="0.8"/>
<rect x="431.59999999999997" y="421.59999999999997" width="3.2" height="3.2" fill="#fff" stroke="#000" stroke-width="0.8"/>
<rect x="431.59999999999997" y="436.29999999999995" width="3.2" height="3.2" fill="#fff" stroke="#000" stroke-width="0.8"/>
<rect x="431.0" y="449.2" width="3.2" height="3.2" fill="#fff" stroke="#000" stroke-width="0.8"/>
<rect x="428.29999999999995" y="454.0" width="3.2" height="3.2" fill="#fff" stroke="#000" stroke-width="0.8"/>
<rect x="431.5" y="454.0" width="3.2" height="3.2" fill="#fff" stroke="#000" stroke-width="0.8"/>
<rect x="434.7" y="454.0" width="3.2" height="3.2" fill="#fff" stroke="#000" stroke-width="0.8"/>
<rect x="460.79999999999995" y="441.79999999999995" width="3.2" height="3.2" fill="#fff" stroke="#000" stroke-width="0.8"/>
<rect x="457.9" y="453.79999999999995" width="3.2" height="3.2" fill="#fff" stroke="#000" stroke-width="0.8"/>
<rect x="461.2" y="453.79999999999995" width="3.2" height="3.2" fill="#fff" stroke="#000" stroke-width="0.8"/>
<rect x="464.5" y="453.79999999999995" width="3.2" height="3.2" fill="#fff" stroke="#000" stroke-width="0.8"/>
<rect x="487.7" y="453.79999999999995" width="3.2" height="3.2" fill="#fff" stroke="#000" stroke-width="0.8"/>
<rect x="490.9" y="453.79999999999995" width="3.2" height="3.2" fill="#fff" stroke="#000" stroke-width="0.8"/>
<rect x="494.0" y="453.79999999999995" width="3.2" height="3.2" fill="#fff" stroke="#000" stroke-width="0.8"/>
<rect x="489.59999999999997" y="452.0" width="3.2" height="3.2" fill="#fff" stroke="#000" stroke-width="0.8"/>
<text x="361.9" y="317.3" font-size="9.2" text-anchor="start" font-weight="normal" >Thymic DP cells</text>
<rect x="187" y="328.3" width="4.7" height="5.6" fill="#000"/>
<text x="194" y="334.1" font-size="9.2" text-anchor="start" font-weight="normal" >WT donor</text>
<rect x="187.45" y="339.05" width="3.9" height="4.8" fill="#fff" stroke="#000" stroke-width="0.9"/>
<text x="194" y="344.3" font-size="9.2" text-anchor="start" font-weight="normal" >DKO donor</text>
<rect x="452.7" y="328.3" width="4.7" height="5.6" fill="#000"/>
<text x="459.7" y="334.1" font-size="9.2" text-anchor="start" font-weight="normal" >WT donor</text>
<rect x="453.15" y="339.05" width="3.9" height="4.8" fill="#fff" stroke="#000" stroke-width="0.9"/>
<text x="459.7" y="344.3" font-size="9.2" text-anchor="start" font-weight="normal" >DKO donor</text>
<text x="306.5" y="332.2" font-size="9.2" text-anchor="start" font-weight="normal" >ns</text>
<line x1="304.6" y1="334.8" x2="317.6" y2="334.8" stroke="#000" stroke-width="0.9" />
<text x="325" y="333.6" font-size="9.2"><tspan font-style="italic">p</tspan>&lt;0.05</text>
<line x1="332.3" y1="335.2" x2="346.2" y2="335.2" stroke="#000" stroke-width="0.9" />
<text x="364.2" y="335" font-size="9.2" text-anchor="start" font-weight="normal" >ns</text>
<line x1="361.5" y1="337.7" x2="375.2" y2="337.7" stroke="#000" stroke-width="0.9" />
<text x="384.9" y="340.5" font-size="9.2"><tspan font-style="italic">p</tspan>&lt;0.01</text>
<line x1="392.3" y1="343.2" x2="404.2" y2="343.2" stroke="#000" stroke-width="0.9" />
<text x="412.2" y="377.3" font-size="9.2"><tspan font-style="italic">p</tspan>&lt;0.05</text>
<line x1="421" y1="380.6" x2="433.4" y2="380.6" stroke="#000" stroke-width="0.9" />
<text x="443.3" y="386.1" font-size="9.2"><tspan font-style="italic">p</tspan>&lt;0.01</text>
<line x1="450.4" y1="387.2" x2="462.1" y2="387.2" stroke="#000" stroke-width="0.9" />
<text x="474.1" y="369.2" font-size="9.2"><tspan font-style="italic">p</tspan>&lt;0.01</text>
<line x1="481" y1="370.5" x2="492.1" y2="370.5" stroke="#000" stroke-width="0.9" />
</svg>
</body></html>
